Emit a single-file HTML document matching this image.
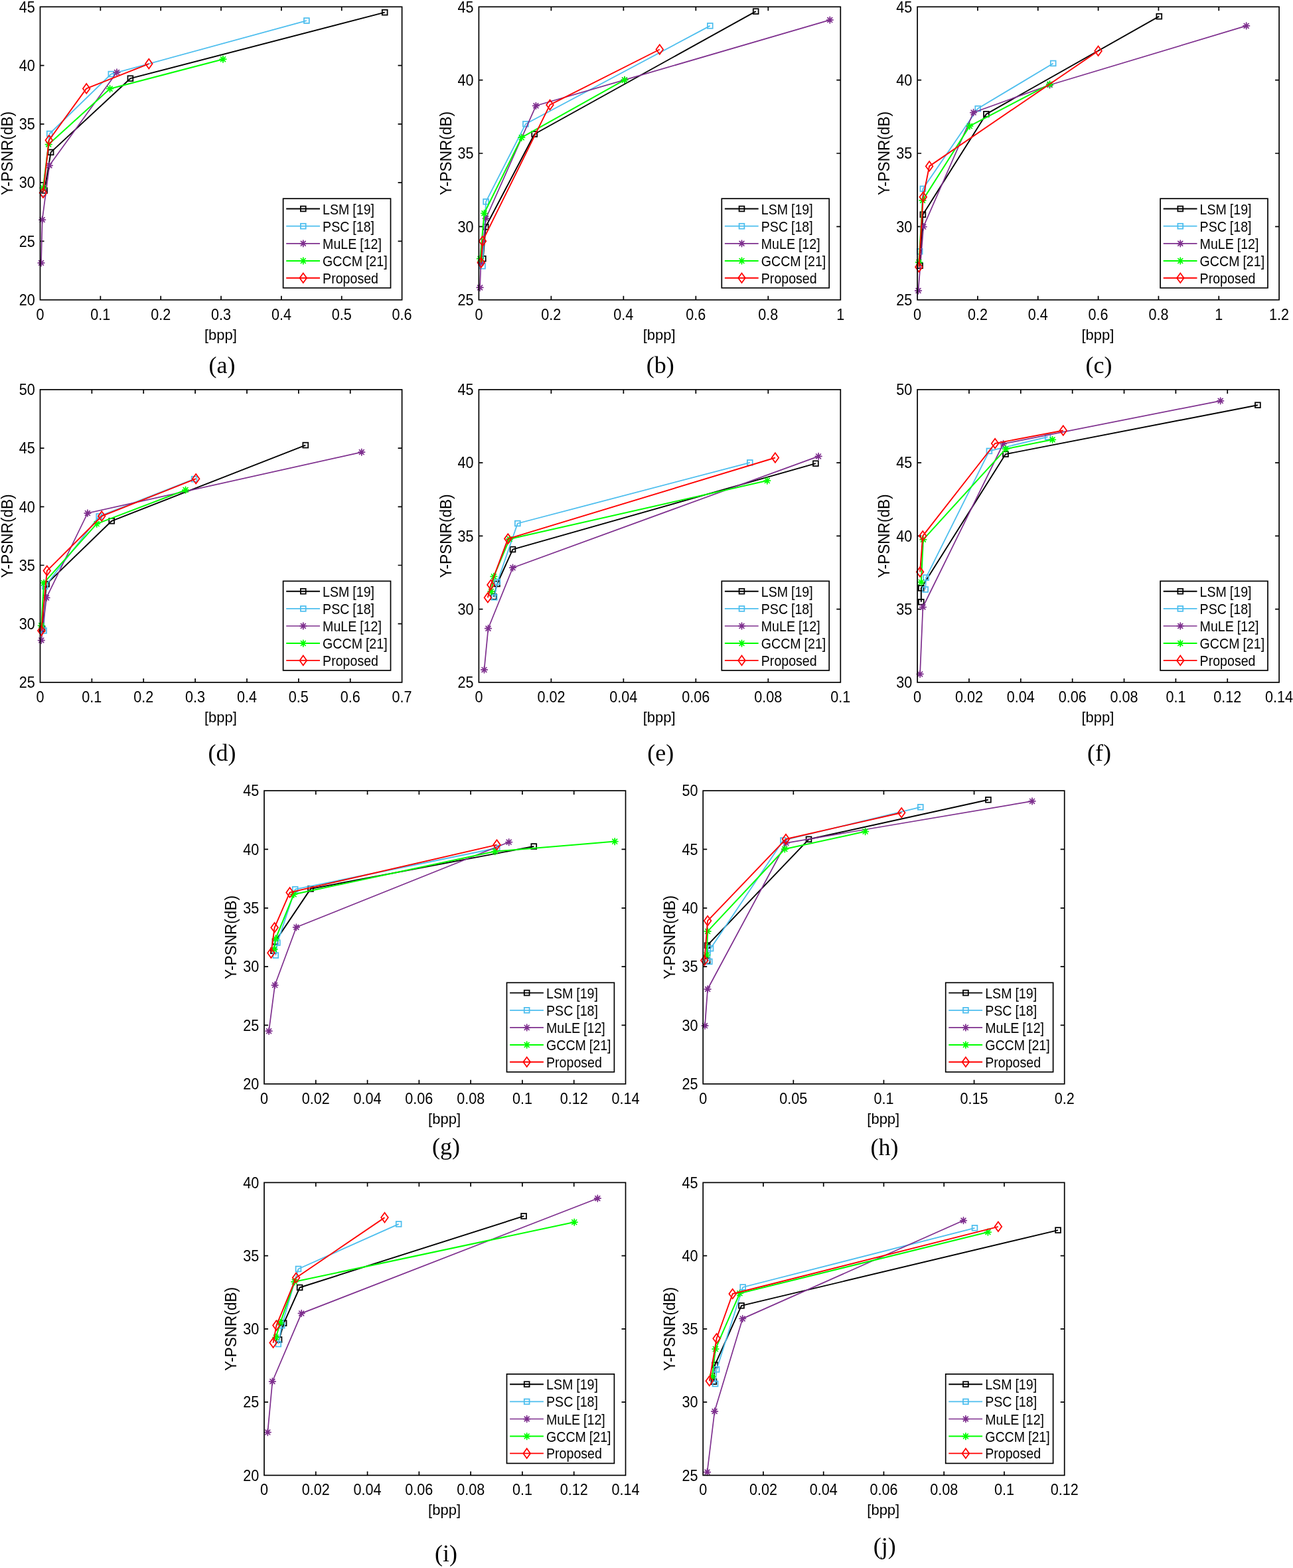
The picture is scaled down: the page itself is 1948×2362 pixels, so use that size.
<!DOCTYPE html><html><head><meta charset="utf-8"><title>Y-PSNR vs bpp</title>
<style>html,body{margin:0;padding:0;background:#fff;}svg{display:block;}</style></head><body>
<svg width="1948" height="2362" viewBox="0 0 1948 2362">
<rect width="1948" height="2362" fill="#fff"/>
<g>
<path d="M151.35 451.7V445.7M151.35 10.3V16.3M242.2 451.7V445.7M242.2 10.3V16.3M333.05 451.7V445.7M333.05 10.3V16.3M423.9 451.7V445.7M423.9 10.3V16.3M514.75 451.7V445.7M514.75 10.3V16.3M60.5 363.42H66.5M605.6 363.42H599.6M60.5 275.14H66.5M605.6 275.14H599.6M60.5 186.86H66.5M605.6 186.86H599.6M60.5 98.58H66.5M605.6 98.58H599.6" stroke="#000" stroke-width="1.7" fill="none"/>
<path d="M67.1 287L76.6 229.4L196.4 118.2L579.7 18.7" fill="none" stroke="#000000" stroke-width="1.9" stroke-linejoin="round"/>
<rect x="63.2" y="283.1" width="7.8" height="7.8" fill="none" stroke="#000000" stroke-width="1.75"/>
<rect x="72.7" y="225.5" width="7.8" height="7.8" fill="none" stroke="#000000" stroke-width="1.75"/>
<rect x="192.5" y="114.3" width="7.8" height="7.8" fill="none" stroke="#000000" stroke-width="1.75"/>
<rect x="575.8" y="14.8" width="7.8" height="7.8" fill="none" stroke="#000000" stroke-width="1.75"/>
<path d="M64.7 291L74.7 201.5L167.3 111.6L461.9 31.1" fill="none" stroke="#4DBEEE" stroke-width="1.8" stroke-linejoin="round"/>
<rect x="60.8" y="287.1" width="7.8" height="7.8" fill="none" stroke="#4DBEEE" stroke-width="1.75"/>
<rect x="70.8" y="197.6" width="7.8" height="7.8" fill="none" stroke="#4DBEEE" stroke-width="1.75"/>
<rect x="163.4" y="107.7" width="7.8" height="7.8" fill="none" stroke="#4DBEEE" stroke-width="1.75"/>
<rect x="458" y="27.2" width="7.8" height="7.8" fill="none" stroke="#4DBEEE" stroke-width="1.75"/>
<path d="M62 396L63.7 331L74.4 249.3L176 109" fill="none" stroke="#7E2F8E" stroke-width="1.7" stroke-linejoin="round"/>
<path d="M62 391.2L62 400.8M57.2 396L66.8 396M58.6 392.6L65.4 399.4M58.6 399.4L65.4 392.6" stroke="#7E2F8E" stroke-width="1.75" stroke-linecap="round"/>
<path d="M63.7 326.2L63.7 335.8M58.9 331L68.5 331M60.3 327.6L67.1 334.4M60.3 334.4L67.1 327.6" stroke="#7E2F8E" stroke-width="1.75" stroke-linecap="round"/>
<path d="M74.4 244.5L74.4 254.1M69.6 249.3L79.2 249.3M71 245.9L77.8 252.7M71 252.7L77.8 245.9" stroke="#7E2F8E" stroke-width="1.75" stroke-linecap="round"/>
<path d="M176 104.2L176 113.8M171.2 109L180.8 109M172.6 105.6L179.4 112.4M172.6 112.4L179.4 105.6" stroke="#7E2F8E" stroke-width="1.75" stroke-linecap="round"/>
<path d="M64.9 283L73.2 217.5L165.6 133.7L336 89.2" fill="none" stroke="#00FF00" stroke-width="2.0" stroke-linejoin="round"/>
<path d="M64.9 278.2L64.9 287.8M60.1 283L69.7 283M61.5 279.6L68.3 286.4M61.5 286.4L68.3 279.6" stroke="#00FF00" stroke-width="1.75" stroke-linecap="round"/>
<path d="M73.2 212.7L73.2 222.3M68.4 217.5L78 217.5M69.8 214.1L76.6 220.9M69.8 220.9L76.6 214.1" stroke="#00FF00" stroke-width="1.75" stroke-linecap="round"/>
<path d="M165.6 128.9L165.6 138.5M160.8 133.7L170.4 133.7M162.2 130.3L169 137.1M162.2 137.1L169 130.3" stroke="#00FF00" stroke-width="1.75" stroke-linecap="round"/>
<path d="M336 84.4L336 94M331.2 89.2L340.8 89.2M332.6 85.8L339.4 92.6M332.6 92.6L339.4 85.8" stroke="#00FF00" stroke-width="1.75" stroke-linecap="round"/>
<path d="M65 290.5L73.8 211.3L130.2 133.4L224.3 96.1" fill="none" stroke="#FF0000" stroke-width="1.9" stroke-linejoin="round"/>
<path d="M65 283.2L70.3 290.5L65 297.8L59.7 290.5Z" fill="none" stroke="#FF0000" stroke-width="1.75" stroke-linejoin="miter"/>
<path d="M73.8 204L79.1 211.3L73.8 218.6L68.5 211.3Z" fill="none" stroke="#FF0000" stroke-width="1.75" stroke-linejoin="miter"/>
<path d="M130.2 126.1L135.5 133.4L130.2 140.7L124.9 133.4Z" fill="none" stroke="#FF0000" stroke-width="1.75" stroke-linejoin="miter"/>
<path d="M224.3 88.8L229.6 96.1L224.3 103.4L219 96.1Z" fill="none" stroke="#FF0000" stroke-width="1.75" stroke-linejoin="miter"/>
<rect x="60.5" y="10.3" width="545.1" height="441.4" fill="none" stroke="#000" stroke-width="1.7"/>
<g font-family="'Liberation Sans', Arial, sans-serif" font-size="21.6" fill="#000">
<text transform="translate(60.5 481.7) scale(1 1.08)" text-anchor="middle">0</text>
<text transform="translate(151.35 481.7) scale(1 1.08)" text-anchor="middle">0.1</text>
<text transform="translate(242.2 481.7) scale(1 1.08)" text-anchor="middle">0.2</text>
<text transform="translate(333.05 481.7) scale(1 1.08)" text-anchor="middle">0.3</text>
<text transform="translate(423.9 481.7) scale(1 1.08)" text-anchor="middle">0.4</text>
<text transform="translate(514.75 481.7) scale(1 1.08)" text-anchor="middle">0.5</text>
<text transform="translate(605.6 481.7) scale(1 1.08)" text-anchor="middle">0.6</text>
<text transform="translate(52.7 459.9) scale(1 1.07)" text-anchor="end">20</text>
<text transform="translate(52.7 371.62) scale(1 1.07)" text-anchor="end">25</text>
<text transform="translate(52.7 283.34) scale(1 1.07)" text-anchor="end">30</text>
<text transform="translate(52.7 195.06) scale(1 1.07)" text-anchor="end">35</text>
<text transform="translate(52.7 106.78) scale(1 1.07)" text-anchor="end">40</text>
<text transform="translate(52.7 18.5) scale(1 1.07)" text-anchor="end">45</text>
</g>
<text x="332.35" y="511.6" text-anchor="middle" font-family="'Liberation Sans', Arial, sans-serif" font-size="22">[bpp]</text>
<text transform="translate(18.6 231) rotate(-90) scale(1 1.03)" text-anchor="middle" font-family="'Liberation Sans', Arial, sans-serif" font-size="22.6">Y-PSNR(dB)</text>
<rect x="426.6" y="299.2" width="161.9" height="134.5" fill="#fff" stroke="#000" stroke-width="1.7"/>
<path d="M431.2 314.5H482" stroke="#000000" stroke-width="1.9"/>
<rect x="452.9" y="310.6" width="7.8" height="7.8" fill="none" stroke="#000000" stroke-width="1.75"/>
<text transform="translate(486.1 322.5) scale(1 1.1)" font-family="'Liberation Sans', Arial, sans-serif" font-size="19.6" word-spacing="-0.5">LSM [19]</text>
<path d="M431.2 340.7H482" stroke="#4DBEEE" stroke-width="1.8"/>
<rect x="452.9" y="336.8" width="7.8" height="7.8" fill="none" stroke="#4DBEEE" stroke-width="1.75"/>
<text transform="translate(486.1 348.7) scale(1 1.1)" font-family="'Liberation Sans', Arial, sans-serif" font-size="19.6" word-spacing="-0.5">PSC [18]</text>
<path d="M431.2 366.8H482" stroke="#7E2F8E" stroke-width="1.7"/>
<path d="M456.8 362L456.8 371.6M452 366.8L461.6 366.8M453.4 363.4L460.2 370.2M453.4 370.2L460.2 363.4" stroke="#7E2F8E" stroke-width="1.75" stroke-linecap="round"/>
<text transform="translate(486.1 374.8) scale(1 1.1)" font-family="'Liberation Sans', Arial, sans-serif" font-size="19.6" word-spacing="-0.5">MuLE [12]</text>
<path d="M431.2 392.9H482" stroke="#00FF00" stroke-width="2.0"/>
<path d="M456.8 388.1L456.8 397.7M452 392.9L461.6 392.9M453.4 389.5L460.2 396.3M453.4 396.3L460.2 389.5" stroke="#00FF00" stroke-width="1.75" stroke-linecap="round"/>
<text transform="translate(486.1 400.9) scale(1 1.1)" font-family="'Liberation Sans', Arial, sans-serif" font-size="19.6" word-spacing="-0.5">GCCM [21]</text>
<path d="M431.2 418.7H482" stroke="#FF0000" stroke-width="1.9"/>
<path d="M456.8 411.4L462.1 418.7L456.8 426L451.5 418.7Z" fill="none" stroke="#FF0000" stroke-width="1.75" stroke-linejoin="miter"/>
<text transform="translate(486.1 426.7) scale(1 1.1)" font-family="'Liberation Sans', Arial, sans-serif" font-size="19.6" word-spacing="-0.5">Proposed</text>
<text x="334.6" y="561.7" text-anchor="middle" font-family="'Liberation Serif', 'Times New Roman', serif" font-size="36">(a)</text>
</g>
<g>
<path d="M830.38 451.7V445.7M830.38 10.3V16.3M939.36 451.7V445.7M939.36 10.3V16.3M1048.34 451.7V445.7M1048.34 10.3V16.3M1157.32 451.7V445.7M1157.32 10.3V16.3M721.4 341.35H727.4M1266.3 341.35H1260.3M721.4 231H727.4M1266.3 231H1260.3M721.4 120.65H727.4M1266.3 120.65H1260.3" stroke="#000" stroke-width="1.7" fill="none"/>
<path d="M727.8 389.7L731.7 341.8L805.2 202L1138.7 17.1" fill="none" stroke="#000000" stroke-width="1.9" stroke-linejoin="round"/>
<rect x="723.9" y="385.8" width="7.8" height="7.8" fill="none" stroke="#000000" stroke-width="1.75"/>
<rect x="727.8" y="337.9" width="7.8" height="7.8" fill="none" stroke="#000000" stroke-width="1.75"/>
<rect x="801.3" y="198.1" width="7.8" height="7.8" fill="none" stroke="#000000" stroke-width="1.75"/>
<rect x="1134.8" y="13.2" width="7.8" height="7.8" fill="none" stroke="#000000" stroke-width="1.75"/>
<path d="M727 400.8L732.1 303.8L791.9 186.8L1069.8 38.9" fill="none" stroke="#4DBEEE" stroke-width="1.8" stroke-linejoin="round"/>
<rect x="723.1" y="396.9" width="7.8" height="7.8" fill="none" stroke="#4DBEEE" stroke-width="1.75"/>
<rect x="728.2" y="299.9" width="7.8" height="7.8" fill="none" stroke="#4DBEEE" stroke-width="1.75"/>
<rect x="788" y="182.9" width="7.8" height="7.8" fill="none" stroke="#4DBEEE" stroke-width="1.75"/>
<rect x="1065.9" y="35" width="7.8" height="7.8" fill="none" stroke="#4DBEEE" stroke-width="1.75"/>
<path d="M723.1 433.2L724.5 396L732.1 329L807.4 159.3L941 120.4L1250.3 30.1" fill="none" stroke="#7E2F8E" stroke-width="1.7" stroke-linejoin="round"/>
<path d="M723.1 428.4L723.1 438M718.3 433.2L727.9 433.2M719.7 429.8L726.5 436.6M719.7 436.6L726.5 429.8" stroke="#7E2F8E" stroke-width="1.75" stroke-linecap="round"/>
<path d="M724.5 391.2L724.5 400.8M719.7 396L729.3 396M721.1 392.6L727.9 399.4M721.1 399.4L727.9 392.6" stroke="#7E2F8E" stroke-width="1.75" stroke-linecap="round"/>
<path d="M732.1 324.2L732.1 333.8M727.3 329L736.9 329M728.7 325.6L735.5 332.4M728.7 332.4L735.5 325.6" stroke="#7E2F8E" stroke-width="1.75" stroke-linecap="round"/>
<path d="M807.4 154.5L807.4 164.1M802.6 159.3L812.2 159.3M804 155.9L810.8 162.7M804 162.7L810.8 155.9" stroke="#7E2F8E" stroke-width="1.75" stroke-linecap="round"/>
<path d="M941 115.6L941 125.2M936.2 120.4L945.8 120.4M937.6 117L944.4 123.8M937.6 123.8L944.4 117" stroke="#7E2F8E" stroke-width="1.75" stroke-linecap="round"/>
<path d="M1250.3 25.3L1250.3 34.9M1245.5 30.1L1255.1 30.1M1246.9 26.7L1253.7 33.5M1246.9 33.5L1253.7 26.7" stroke="#7E2F8E" stroke-width="1.75" stroke-linecap="round"/>
<path d="M723.5 389.7L729.5 321.3L785.8 207.2L941 120.4" fill="none" stroke="#00FF00" stroke-width="2.0" stroke-linejoin="round"/>
<path d="M723.5 384.9L723.5 394.5M718.7 389.7L728.3 389.7M720.1 386.3L726.9 393.1M720.1 393.1L726.9 386.3" stroke="#00FF00" stroke-width="1.75" stroke-linecap="round"/>
<path d="M729.5 316.5L729.5 326.1M724.7 321.3L734.3 321.3M726.1 317.9L732.9 324.7M726.1 324.7L732.9 317.9" stroke="#00FF00" stroke-width="1.75" stroke-linecap="round"/>
<path d="M785.8 202.4L785.8 212M781 207.2L790.6 207.2M782.4 203.8L789.2 210.6M782.4 210.6L789.2 203.8" stroke="#00FF00" stroke-width="1.75" stroke-linecap="round"/>
<path d="M941 115.6L941 125.2M936.2 120.4L945.8 120.4M937.6 117L944.4 123.8M937.6 123.8L944.4 117" stroke="#00FF00" stroke-width="1.75" stroke-linecap="round"/>
<path d="M724.8 395.6L727 363.2L828.5 157.9L993.8 74.5" fill="none" stroke="#FF0000" stroke-width="1.9" stroke-linejoin="round"/>
<path d="M724.8 388.3L730.1 395.6L724.8 402.9L719.5 395.6Z" fill="none" stroke="#FF0000" stroke-width="1.75" stroke-linejoin="miter"/>
<path d="M727 355.9L732.3 363.2L727 370.5L721.7 363.2Z" fill="none" stroke="#FF0000" stroke-width="1.75" stroke-linejoin="miter"/>
<path d="M828.5 150.6L833.8 157.9L828.5 165.2L823.2 157.9Z" fill="none" stroke="#FF0000" stroke-width="1.75" stroke-linejoin="miter"/>
<path d="M993.8 67.2L999.1 74.5L993.8 81.8L988.5 74.5Z" fill="none" stroke="#FF0000" stroke-width="1.75" stroke-linejoin="miter"/>
<rect x="721.4" y="10.3" width="544.9" height="441.4" fill="none" stroke="#000" stroke-width="1.7"/>
<g font-family="'Liberation Sans', Arial, sans-serif" font-size="21.6" fill="#000">
<text transform="translate(721.4 481.7) scale(1 1.08)" text-anchor="middle">0</text>
<text transform="translate(830.38 481.7) scale(1 1.08)" text-anchor="middle">0.2</text>
<text transform="translate(939.36 481.7) scale(1 1.08)" text-anchor="middle">0.4</text>
<text transform="translate(1048.34 481.7) scale(1 1.08)" text-anchor="middle">0.6</text>
<text transform="translate(1157.32 481.7) scale(1 1.08)" text-anchor="middle">0.8</text>
<text transform="translate(1266.3 481.7) scale(1 1.08)" text-anchor="middle">1</text>
<text transform="translate(713.6 459.9) scale(1 1.07)" text-anchor="end">25</text>
<text transform="translate(713.6 349.55) scale(1 1.07)" text-anchor="end">30</text>
<text transform="translate(713.6 239.2) scale(1 1.07)" text-anchor="end">35</text>
<text transform="translate(713.6 128.85) scale(1 1.07)" text-anchor="end">40</text>
<text transform="translate(713.6 18.5) scale(1 1.07)" text-anchor="end">45</text>
</g>
<text x="993.15" y="511.6" text-anchor="middle" font-family="'Liberation Sans', Arial, sans-serif" font-size="22">[bpp]</text>
<text transform="translate(679.5 231) rotate(-90) scale(1 1.03)" text-anchor="middle" font-family="'Liberation Sans', Arial, sans-serif" font-size="22.6">Y-PSNR(dB)</text>
<rect x="1087.3" y="299.2" width="161.9" height="134.5" fill="#fff" stroke="#000" stroke-width="1.7"/>
<path d="M1091.9 314.5H1142.7" stroke="#000000" stroke-width="1.9"/>
<rect x="1113.6" y="310.6" width="7.8" height="7.8" fill="none" stroke="#000000" stroke-width="1.75"/>
<text transform="translate(1146.8 322.5) scale(1 1.1)" font-family="'Liberation Sans', Arial, sans-serif" font-size="19.6" word-spacing="-0.5">LSM [19]</text>
<path d="M1091.9 340.7H1142.7" stroke="#4DBEEE" stroke-width="1.8"/>
<rect x="1113.6" y="336.8" width="7.8" height="7.8" fill="none" stroke="#4DBEEE" stroke-width="1.75"/>
<text transform="translate(1146.8 348.7) scale(1 1.1)" font-family="'Liberation Sans', Arial, sans-serif" font-size="19.6" word-spacing="-0.5">PSC [18]</text>
<path d="M1091.9 366.8H1142.7" stroke="#7E2F8E" stroke-width="1.7"/>
<path d="M1117.5 362L1117.5 371.6M1112.7 366.8L1122.3 366.8M1114.1 363.4L1120.9 370.2M1114.1 370.2L1120.9 363.4" stroke="#7E2F8E" stroke-width="1.75" stroke-linecap="round"/>
<text transform="translate(1146.8 374.8) scale(1 1.1)" font-family="'Liberation Sans', Arial, sans-serif" font-size="19.6" word-spacing="-0.5">MuLE [12]</text>
<path d="M1091.9 392.9H1142.7" stroke="#00FF00" stroke-width="2.0"/>
<path d="M1117.5 388.1L1117.5 397.7M1112.7 392.9L1122.3 392.9M1114.1 389.5L1120.9 396.3M1114.1 396.3L1120.9 389.5" stroke="#00FF00" stroke-width="1.75" stroke-linecap="round"/>
<text transform="translate(1146.8 400.9) scale(1 1.1)" font-family="'Liberation Sans', Arial, sans-serif" font-size="19.6" word-spacing="-0.5">GCCM [21]</text>
<path d="M1091.9 418.7H1142.7" stroke="#FF0000" stroke-width="1.9"/>
<path d="M1117.5 411.4L1122.8 418.7L1117.5 426L1112.2 418.7Z" fill="none" stroke="#FF0000" stroke-width="1.75" stroke-linejoin="miter"/>
<text transform="translate(1146.8 426.7) scale(1 1.1)" font-family="'Liberation Sans', Arial, sans-serif" font-size="19.6" word-spacing="-0.5">Proposed</text>
<text x="994.8" y="561.7" text-anchor="middle" font-family="'Liberation Serif', 'Times New Roman', serif" font-size="36">(b)</text>
</g>
<g>
<path d="M1472.93 451.7V445.7M1472.93 10.3V16.3M1563.77 451.7V445.7M1563.77 10.3V16.3M1654.6 451.7V445.7M1654.6 10.3V16.3M1745.43 451.7V445.7M1745.43 10.3V16.3M1836.27 451.7V445.7M1836.27 10.3V16.3M1382.1 341.35H1388.1M1927.1 341.35H1921.1M1382.1 231H1388.1M1927.1 231H1921.1M1382.1 120.65H1388.1M1927.1 120.65H1921.1" stroke="#000" stroke-width="1.7" fill="none"/>
<path d="M1386.1 400.2L1390.4 323.2L1485.9 171.8L1746.3 24.7" fill="none" stroke="#000000" stroke-width="1.9" stroke-linejoin="round"/>
<rect x="1382.2" y="396.3" width="7.8" height="7.8" fill="none" stroke="#000000" stroke-width="1.75"/>
<rect x="1386.5" y="319.3" width="7.8" height="7.8" fill="none" stroke="#000000" stroke-width="1.75"/>
<rect x="1482" y="167.9" width="7.8" height="7.8" fill="none" stroke="#000000" stroke-width="1.75"/>
<rect x="1742.4" y="20.8" width="7.8" height="7.8" fill="none" stroke="#000000" stroke-width="1.75"/>
<path d="M1385.7 378.8L1390.4 284.4L1473.2 163.6L1586.7 95.4" fill="none" stroke="#4DBEEE" stroke-width="1.8" stroke-linejoin="round"/>
<rect x="1381.8" y="374.9" width="7.8" height="7.8" fill="none" stroke="#4DBEEE" stroke-width="1.75"/>
<rect x="1386.5" y="280.5" width="7.8" height="7.8" fill="none" stroke="#4DBEEE" stroke-width="1.75"/>
<rect x="1469.3" y="159.7" width="7.8" height="7.8" fill="none" stroke="#4DBEEE" stroke-width="1.75"/>
<rect x="1582.8" y="91.5" width="7.8" height="7.8" fill="none" stroke="#4DBEEE" stroke-width="1.75"/>
<path d="M1383.5 437.8L1391.2 341.6L1466.6 169.5L1581.5 128L1877.7 38.9" fill="none" stroke="#7E2F8E" stroke-width="1.7" stroke-linejoin="round"/>
<path d="M1383.5 433L1383.5 442.6M1378.7 437.8L1388.3 437.8M1380.1 434.4L1386.9 441.2M1380.1 441.2L1386.9 434.4" stroke="#7E2F8E" stroke-width="1.75" stroke-linecap="round"/>
<path d="M1391.2 336.8L1391.2 346.4M1386.4 341.6L1396 341.6M1387.8 338.2L1394.6 345M1387.8 345L1394.6 338.2" stroke="#7E2F8E" stroke-width="1.75" stroke-linecap="round"/>
<path d="M1466.6 164.7L1466.6 174.3M1461.8 169.5L1471.4 169.5M1463.2 166.1L1470 172.9M1463.2 172.9L1470 166.1" stroke="#7E2F8E" stroke-width="1.75" stroke-linecap="round"/>
<path d="M1581.5 123.2L1581.5 132.8M1576.7 128L1586.3 128M1578.1 124.6L1584.9 131.4M1578.1 131.4L1584.9 124.6" stroke="#7E2F8E" stroke-width="1.75" stroke-linecap="round"/>
<path d="M1877.7 34.1L1877.7 43.7M1872.9 38.9L1882.5 38.9M1874.3 35.5L1881.1 42.3M1874.3 42.3L1881.1 35.5" stroke="#7E2F8E" stroke-width="1.75" stroke-linecap="round"/>
<path d="M1384.4 395L1390 301.9L1460.9 189.9L1581.5 126.8" fill="none" stroke="#00FF00" stroke-width="2.0" stroke-linejoin="round"/>
<path d="M1384.4 390.2L1384.4 399.8M1379.6 395L1389.2 395M1381 391.6L1387.8 398.4M1381 398.4L1387.8 391.6" stroke="#00FF00" stroke-width="1.75" stroke-linecap="round"/>
<path d="M1390 297.1L1390 306.7M1385.2 301.9L1394.8 301.9M1386.6 298.5L1393.4 305.3M1386.6 305.3L1393.4 298.5" stroke="#00FF00" stroke-width="1.75" stroke-linecap="round"/>
<path d="M1460.9 185.1L1460.9 194.7M1456.1 189.9L1465.7 189.9M1457.5 186.5L1464.3 193.3M1457.5 193.3L1464.3 186.5" stroke="#00FF00" stroke-width="1.75" stroke-linecap="round"/>
<path d="M1581.5 122L1581.5 131.6M1576.7 126.8L1586.3 126.8M1578.1 123.4L1584.9 130.2M1578.1 130.2L1584.9 123.4" stroke="#00FF00" stroke-width="1.75" stroke-linecap="round"/>
<path d="M1384.4 402.3L1390.8 296.8L1400.1 250.4L1654.6 76.7" fill="none" stroke="#FF0000" stroke-width="1.9" stroke-linejoin="round"/>
<path d="M1384.4 395L1389.7 402.3L1384.4 409.6L1379.1 402.3Z" fill="none" stroke="#FF0000" stroke-width="1.75" stroke-linejoin="miter"/>
<path d="M1390.8 289.5L1396.1 296.8L1390.8 304.1L1385.5 296.8Z" fill="none" stroke="#FF0000" stroke-width="1.75" stroke-linejoin="miter"/>
<path d="M1400.1 243.1L1405.4 250.4L1400.1 257.7L1394.8 250.4Z" fill="none" stroke="#FF0000" stroke-width="1.75" stroke-linejoin="miter"/>
<path d="M1654.6 69.4L1659.9 76.7L1654.6 84L1649.3 76.7Z" fill="none" stroke="#FF0000" stroke-width="1.75" stroke-linejoin="miter"/>
<rect x="1382.1" y="10.3" width="545" height="441.4" fill="none" stroke="#000" stroke-width="1.7"/>
<g font-family="'Liberation Sans', Arial, sans-serif" font-size="21.6" fill="#000">
<text transform="translate(1382.1 481.7) scale(1 1.08)" text-anchor="middle">0</text>
<text transform="translate(1472.93 481.7) scale(1 1.08)" text-anchor="middle">0.2</text>
<text transform="translate(1563.77 481.7) scale(1 1.08)" text-anchor="middle">0.4</text>
<text transform="translate(1654.6 481.7) scale(1 1.08)" text-anchor="middle">0.6</text>
<text transform="translate(1745.43 481.7) scale(1 1.08)" text-anchor="middle">0.8</text>
<text transform="translate(1836.27 481.7) scale(1 1.08)" text-anchor="middle">1</text>
<text transform="translate(1927.1 481.7) scale(1 1.08)" text-anchor="middle">1.2</text>
<text transform="translate(1374.3 459.9) scale(1 1.07)" text-anchor="end">25</text>
<text transform="translate(1374.3 349.55) scale(1 1.07)" text-anchor="end">30</text>
<text transform="translate(1374.3 239.2) scale(1 1.07)" text-anchor="end">35</text>
<text transform="translate(1374.3 128.85) scale(1 1.07)" text-anchor="end">40</text>
<text transform="translate(1374.3 18.5) scale(1 1.07)" text-anchor="end">45</text>
</g>
<text x="1653.9" y="511.6" text-anchor="middle" font-family="'Liberation Sans', Arial, sans-serif" font-size="22">[bpp]</text>
<text transform="translate(1340.2 231) rotate(-90) scale(1 1.03)" text-anchor="middle" font-family="'Liberation Sans', Arial, sans-serif" font-size="22.6">Y-PSNR(dB)</text>
<rect x="1748.1" y="299.2" width="161.9" height="134.5" fill="#fff" stroke="#000" stroke-width="1.7"/>
<path d="M1752.7 314.5H1803.5" stroke="#000000" stroke-width="1.9"/>
<rect x="1774.4" y="310.6" width="7.8" height="7.8" fill="none" stroke="#000000" stroke-width="1.75"/>
<text transform="translate(1807.6 322.5) scale(1 1.1)" font-family="'Liberation Sans', Arial, sans-serif" font-size="19.6" word-spacing="-0.5">LSM [19]</text>
<path d="M1752.7 340.7H1803.5" stroke="#4DBEEE" stroke-width="1.8"/>
<rect x="1774.4" y="336.8" width="7.8" height="7.8" fill="none" stroke="#4DBEEE" stroke-width="1.75"/>
<text transform="translate(1807.6 348.7) scale(1 1.1)" font-family="'Liberation Sans', Arial, sans-serif" font-size="19.6" word-spacing="-0.5">PSC [18]</text>
<path d="M1752.7 366.8H1803.5" stroke="#7E2F8E" stroke-width="1.7"/>
<path d="M1778.3 362L1778.3 371.6M1773.5 366.8L1783.1 366.8M1774.9 363.4L1781.7 370.2M1774.9 370.2L1781.7 363.4" stroke="#7E2F8E" stroke-width="1.75" stroke-linecap="round"/>
<text transform="translate(1807.6 374.8) scale(1 1.1)" font-family="'Liberation Sans', Arial, sans-serif" font-size="19.6" word-spacing="-0.5">MuLE [12]</text>
<path d="M1752.7 392.9H1803.5" stroke="#00FF00" stroke-width="2.0"/>
<path d="M1778.3 388.1L1778.3 397.7M1773.5 392.9L1783.1 392.9M1774.9 389.5L1781.7 396.3M1774.9 396.3L1781.7 389.5" stroke="#00FF00" stroke-width="1.75" stroke-linecap="round"/>
<text transform="translate(1807.6 400.9) scale(1 1.1)" font-family="'Liberation Sans', Arial, sans-serif" font-size="19.6" word-spacing="-0.5">GCCM [21]</text>
<path d="M1752.7 418.7H1803.5" stroke="#FF0000" stroke-width="1.9"/>
<path d="M1778.3 411.4L1783.6 418.7L1778.3 426L1773 418.7Z" fill="none" stroke="#FF0000" stroke-width="1.75" stroke-linejoin="miter"/>
<text transform="translate(1807.6 426.7) scale(1 1.1)" font-family="'Liberation Sans', Arial, sans-serif" font-size="19.6" word-spacing="-0.5">Proposed</text>
<text x="1655.6" y="561.7" text-anchor="middle" font-family="'Liberation Serif', 'Times New Roman', serif" font-size="36">(c)</text>
</g>
<g>
<path d="M138.37 1027.9V1021.9M138.37 586.9V592.9M216.24 1027.9V1021.9M216.24 586.9V592.9M294.11 1027.9V1021.9M294.11 586.9V592.9M371.99 1027.9V1021.9M371.99 586.9V592.9M449.86 1027.9V1021.9M449.86 586.9V592.9M527.73 1027.9V1021.9M527.73 586.9V592.9M60.5 939.7H66.5M605.6 939.7H599.6M60.5 851.5H66.5M605.6 851.5H599.6M60.5 763.3H66.5M605.6 763.3H599.6M60.5 675.1H66.5M605.6 675.1H599.6" stroke="#000" stroke-width="1.7" fill="none"/>
<path d="M63.5 947L70 879.9L168.2 784.8L460.3 670.6" fill="none" stroke="#000000" stroke-width="1.9" stroke-linejoin="round"/>
<rect x="59.6" y="943.1" width="7.8" height="7.8" fill="none" stroke="#000000" stroke-width="1.75"/>
<rect x="66.1" y="876" width="7.8" height="7.8" fill="none" stroke="#000000" stroke-width="1.75"/>
<rect x="164.3" y="780.9" width="7.8" height="7.8" fill="none" stroke="#000000" stroke-width="1.75"/>
<rect x="456.4" y="666.7" width="7.8" height="7.8" fill="none" stroke="#000000" stroke-width="1.75"/>
<path d="M66.1 950L67.8 883.3L149.2 777.9L292.6 721.7" fill="none" stroke="#4DBEEE" stroke-width="1.8" stroke-linejoin="round"/>
<rect x="62.2" y="946.1" width="7.8" height="7.8" fill="none" stroke="#4DBEEE" stroke-width="1.75"/>
<rect x="63.9" y="879.4" width="7.8" height="7.8" fill="none" stroke="#4DBEEE" stroke-width="1.75"/>
<rect x="145.3" y="774" width="7.8" height="7.8" fill="none" stroke="#4DBEEE" stroke-width="1.75"/>
<rect x="288.7" y="717.8" width="7.8" height="7.8" fill="none" stroke="#4DBEEE" stroke-width="1.75"/>
<path d="M62.3 964.5L70 900.4L131.9 773L544.8 681.1" fill="none" stroke="#7E2F8E" stroke-width="1.7" stroke-linejoin="round"/>
<path d="M62.3 959.7L62.3 969.3M57.5 964.5L67.1 964.5M58.9 961.1L65.7 967.9M58.9 967.9L65.7 961.1" stroke="#7E2F8E" stroke-width="1.75" stroke-linecap="round"/>
<path d="M70 895.6L70 905.2M65.2 900.4L74.8 900.4M66.6 897L73.4 903.8M66.6 903.8L73.4 897" stroke="#7E2F8E" stroke-width="1.75" stroke-linecap="round"/>
<path d="M131.9 768.2L131.9 777.8M127.1 773L136.7 773M128.5 769.6L135.3 776.4M128.5 776.4L135.3 769.6" stroke="#7E2F8E" stroke-width="1.75" stroke-linecap="round"/>
<path d="M544.8 676.3L544.8 685.9M540 681.1L549.6 681.1M541.4 677.7L548.2 684.5M541.4 684.5L548.2 677.7" stroke="#7E2F8E" stroke-width="1.75" stroke-linecap="round"/>
<path d="M62.3 942.3L66.1 878.2L145.7 789.1L279.6 738.1" fill="none" stroke="#00FF00" stroke-width="2.0" stroke-linejoin="round"/>
<path d="M62.3 937.5L62.3 947.1M57.5 942.3L67.1 942.3M58.9 938.9L65.7 945.7M58.9 945.7L65.7 938.9" stroke="#00FF00" stroke-width="1.75" stroke-linecap="round"/>
<path d="M66.1 873.4L66.1 883M61.3 878.2L70.9 878.2M62.7 874.8L69.5 881.6M62.7 881.6L69.5 874.8" stroke="#00FF00" stroke-width="1.75" stroke-linecap="round"/>
<path d="M145.7 784.3L145.7 793.9M140.9 789.1L150.5 789.1M142.3 785.7L149.1 792.5M142.3 792.5L149.1 785.7" stroke="#00FF00" stroke-width="1.75" stroke-linecap="round"/>
<path d="M279.6 733.3L279.6 742.9M274.8 738.1L284.4 738.1M276.2 734.7L283 741.5M276.2 741.5L283 734.7" stroke="#00FF00" stroke-width="1.75" stroke-linecap="round"/>
<path d="M62.3 950L70.8 859.8L153.2 777.5L295.2 721.2" fill="none" stroke="#FF0000" stroke-width="1.9" stroke-linejoin="round"/>
<path d="M62.3 942.7L67.6 950L62.3 957.3L57 950Z" fill="none" stroke="#FF0000" stroke-width="1.75" stroke-linejoin="miter"/>
<path d="M70.8 852.5L76.1 859.8L70.8 867.1L65.5 859.8Z" fill="none" stroke="#FF0000" stroke-width="1.75" stroke-linejoin="miter"/>
<path d="M153.2 770.2L158.5 777.5L153.2 784.8L147.9 777.5Z" fill="none" stroke="#FF0000" stroke-width="1.75" stroke-linejoin="miter"/>
<path d="M295.2 713.9L300.5 721.2L295.2 728.5L289.9 721.2Z" fill="none" stroke="#FF0000" stroke-width="1.75" stroke-linejoin="miter"/>
<rect x="60.5" y="586.9" width="545.1" height="441" fill="none" stroke="#000" stroke-width="1.7"/>
<g font-family="'Liberation Sans', Arial, sans-serif" font-size="21.6" fill="#000">
<text transform="translate(60.5 1057.9) scale(1 1.08)" text-anchor="middle">0</text>
<text transform="translate(138.37 1057.9) scale(1 1.08)" text-anchor="middle">0.1</text>
<text transform="translate(216.24 1057.9) scale(1 1.08)" text-anchor="middle">0.2</text>
<text transform="translate(294.11 1057.9) scale(1 1.08)" text-anchor="middle">0.3</text>
<text transform="translate(371.99 1057.9) scale(1 1.08)" text-anchor="middle">0.4</text>
<text transform="translate(449.86 1057.9) scale(1 1.08)" text-anchor="middle">0.5</text>
<text transform="translate(527.73 1057.9) scale(1 1.08)" text-anchor="middle">0.6</text>
<text transform="translate(605.6 1057.9) scale(1 1.08)" text-anchor="middle">0.7</text>
<text transform="translate(52.7 1036.1) scale(1 1.07)" text-anchor="end">25</text>
<text transform="translate(52.7 947.9) scale(1 1.07)" text-anchor="end">30</text>
<text transform="translate(52.7 859.7) scale(1 1.07)" text-anchor="end">35</text>
<text transform="translate(52.7 771.5) scale(1 1.07)" text-anchor="end">40</text>
<text transform="translate(52.7 683.3) scale(1 1.07)" text-anchor="end">45</text>
<text transform="translate(52.7 595.1) scale(1 1.07)" text-anchor="end">50</text>
</g>
<text x="332.35" y="1087.8" text-anchor="middle" font-family="'Liberation Sans', Arial, sans-serif" font-size="22">[bpp]</text>
<text transform="translate(18.6 807.4) rotate(-90) scale(1 1.03)" text-anchor="middle" font-family="'Liberation Sans', Arial, sans-serif" font-size="22.6">Y-PSNR(dB)</text>
<rect x="426.6" y="875.4" width="161.9" height="134.5" fill="#fff" stroke="#000" stroke-width="1.7"/>
<path d="M431.2 890.7H482" stroke="#000000" stroke-width="1.9"/>
<rect x="452.9" y="886.8" width="7.8" height="7.8" fill="none" stroke="#000000" stroke-width="1.75"/>
<text transform="translate(486.1 898.7) scale(1 1.1)" font-family="'Liberation Sans', Arial, sans-serif" font-size="19.6" word-spacing="-0.5">LSM [19]</text>
<path d="M431.2 916.9H482" stroke="#4DBEEE" stroke-width="1.8"/>
<rect x="452.9" y="913" width="7.8" height="7.8" fill="none" stroke="#4DBEEE" stroke-width="1.75"/>
<text transform="translate(486.1 924.9) scale(1 1.1)" font-family="'Liberation Sans', Arial, sans-serif" font-size="19.6" word-spacing="-0.5">PSC [18]</text>
<path d="M431.2 943H482" stroke="#7E2F8E" stroke-width="1.7"/>
<path d="M456.8 938.2L456.8 947.8M452 943L461.6 943M453.4 939.6L460.2 946.4M453.4 946.4L460.2 939.6" stroke="#7E2F8E" stroke-width="1.75" stroke-linecap="round"/>
<text transform="translate(486.1 951) scale(1 1.1)" font-family="'Liberation Sans', Arial, sans-serif" font-size="19.6" word-spacing="-0.5">MuLE [12]</text>
<path d="M431.2 969.1H482" stroke="#00FF00" stroke-width="2.0"/>
<path d="M456.8 964.3L456.8 973.9M452 969.1L461.6 969.1M453.4 965.7L460.2 972.5M453.4 972.5L460.2 965.7" stroke="#00FF00" stroke-width="1.75" stroke-linecap="round"/>
<text transform="translate(486.1 977.1) scale(1 1.1)" font-family="'Liberation Sans', Arial, sans-serif" font-size="19.6" word-spacing="-0.5">GCCM [21]</text>
<path d="M431.2 994.9H482" stroke="#FF0000" stroke-width="1.9"/>
<path d="M456.8 987.6L462.1 994.9L456.8 1002.2L451.5 994.9Z" fill="none" stroke="#FF0000" stroke-width="1.75" stroke-linejoin="miter"/>
<text transform="translate(486.1 1002.9) scale(1 1.1)" font-family="'Liberation Sans', Arial, sans-serif" font-size="19.6" word-spacing="-0.5">Proposed</text>
<text x="334.4" y="1145.5" text-anchor="middle" font-family="'Liberation Serif', 'Times New Roman', serif" font-size="36">(d)</text>
</g>
<g>
<path d="M830.38 1027.9V1021.9M830.38 586.9V592.9M939.36 1027.9V1021.9M939.36 586.9V592.9M1048.34 1027.9V1021.9M1048.34 586.9V592.9M1157.32 1027.9V1021.9M1157.32 586.9V592.9M721.4 917.65H727.4M1266.3 917.65H1260.3M721.4 807.4H727.4M1266.3 807.4H1260.3M721.4 697.15H727.4M1266.3 697.15H1260.3" stroke="#000" stroke-width="1.7" fill="none"/>
<path d="M743.9 898.9L749 879.5L772.5 827.6L1228.9 698.2" fill="none" stroke="#000000" stroke-width="1.9" stroke-linejoin="round"/>
<rect x="740" y="895" width="7.8" height="7.8" fill="none" stroke="#000000" stroke-width="1.75"/>
<rect x="745.1" y="875.6" width="7.8" height="7.8" fill="none" stroke="#000000" stroke-width="1.75"/>
<rect x="768.6" y="823.7" width="7.8" height="7.8" fill="none" stroke="#000000" stroke-width="1.75"/>
<rect x="1225" y="694.3" width="7.8" height="7.8" fill="none" stroke="#000000" stroke-width="1.75"/>
<path d="M744.8 899.8L749.4 876.5L779.8 788.5L1129.8 696.9" fill="none" stroke="#4DBEEE" stroke-width="1.8" stroke-linejoin="round"/>
<rect x="740.9" y="895.9" width="7.8" height="7.8" fill="none" stroke="#4DBEEE" stroke-width="1.75"/>
<rect x="745.5" y="872.6" width="7.8" height="7.8" fill="none" stroke="#4DBEEE" stroke-width="1.75"/>
<rect x="775.9" y="784.6" width="7.8" height="7.8" fill="none" stroke="#4DBEEE" stroke-width="1.75"/>
<rect x="1125.9" y="693" width="7.8" height="7.8" fill="none" stroke="#4DBEEE" stroke-width="1.75"/>
<path d="M729.5 1008.9L735.5 946.7L772.5 855.2L1233.1 687.4" fill="none" stroke="#7E2F8E" stroke-width="1.7" stroke-linejoin="round"/>
<path d="M729.5 1004.1L729.5 1013.7M724.7 1008.9L734.3 1008.9M726.1 1005.5L732.9 1012.3M726.1 1012.3L732.9 1005.5" stroke="#7E2F8E" stroke-width="1.75" stroke-linecap="round"/>
<path d="M735.5 941.9L735.5 951.5M730.7 946.7L740.3 946.7M732.1 943.3L738.9 950.1M732.1 950.1L738.9 943.3" stroke="#7E2F8E" stroke-width="1.75" stroke-linecap="round"/>
<path d="M772.5 850.4L772.5 860M767.7 855.2L777.3 855.2M769.1 851.8L775.9 858.6M769.1 858.6L775.9 851.8" stroke="#7E2F8E" stroke-width="1.75" stroke-linecap="round"/>
<path d="M1233.1 682.6L1233.1 692.2M1228.3 687.4L1237.9 687.4M1229.7 684L1236.5 690.8M1229.7 690.8L1236.5 684" stroke="#7E2F8E" stroke-width="1.75" stroke-linecap="round"/>
<path d="M740 890.9L743.9 868.4L767.6 812L1155.8 724.1" fill="none" stroke="#00FF00" stroke-width="2.0" stroke-linejoin="round"/>
<path d="M740 886.1L740 895.7M735.2 890.9L744.8 890.9M736.6 887.5L743.4 894.3M736.6 894.3L743.4 887.5" stroke="#00FF00" stroke-width="1.75" stroke-linecap="round"/>
<path d="M743.9 863.6L743.9 873.2M739.1 868.4L748.7 868.4M740.5 865L747.3 871.8M740.5 871.8L747.3 865" stroke="#00FF00" stroke-width="1.75" stroke-linecap="round"/>
<path d="M767.6 807.2L767.6 816.8M762.8 812L772.4 812M764.2 808.6L771 815.4M764.2 815.4L771 808.6" stroke="#00FF00" stroke-width="1.75" stroke-linecap="round"/>
<path d="M1155.8 719.3L1155.8 728.9M1151 724.1L1160.6 724.1M1152.4 720.7L1159.2 727.5M1152.4 727.5L1159.2 720.7" stroke="#00FF00" stroke-width="1.75" stroke-linecap="round"/>
<path d="M734.9 900.2L739.4 881L765.3 811.6L1167.9 689.5" fill="none" stroke="#FF0000" stroke-width="1.9" stroke-linejoin="round"/>
<path d="M734.9 892.9L740.2 900.2L734.9 907.5L729.6 900.2Z" fill="none" stroke="#FF0000" stroke-width="1.75" stroke-linejoin="miter"/>
<path d="M739.4 873.7L744.7 881L739.4 888.3L734.1 881Z" fill="none" stroke="#FF0000" stroke-width="1.75" stroke-linejoin="miter"/>
<path d="M765.3 804.3L770.6 811.6L765.3 818.9L760 811.6Z" fill="none" stroke="#FF0000" stroke-width="1.75" stroke-linejoin="miter"/>
<path d="M1167.9 682.2L1173.2 689.5L1167.9 696.8L1162.6 689.5Z" fill="none" stroke="#FF0000" stroke-width="1.75" stroke-linejoin="miter"/>
<rect x="721.4" y="586.9" width="544.9" height="441" fill="none" stroke="#000" stroke-width="1.7"/>
<g font-family="'Liberation Sans', Arial, sans-serif" font-size="21.6" fill="#000">
<text transform="translate(721.4 1057.9) scale(1 1.08)" text-anchor="middle">0</text>
<text transform="translate(830.38 1057.9) scale(1 1.08)" text-anchor="middle">0.02</text>
<text transform="translate(939.36 1057.9) scale(1 1.08)" text-anchor="middle">0.04</text>
<text transform="translate(1048.34 1057.9) scale(1 1.08)" text-anchor="middle">0.06</text>
<text transform="translate(1157.32 1057.9) scale(1 1.08)" text-anchor="middle">0.08</text>
<text transform="translate(1266.3 1057.9) scale(1 1.08)" text-anchor="middle">0.1</text>
<text transform="translate(713.6 1036.1) scale(1 1.07)" text-anchor="end">25</text>
<text transform="translate(713.6 925.85) scale(1 1.07)" text-anchor="end">30</text>
<text transform="translate(713.6 815.6) scale(1 1.07)" text-anchor="end">35</text>
<text transform="translate(713.6 705.35) scale(1 1.07)" text-anchor="end">40</text>
<text transform="translate(713.6 595.1) scale(1 1.07)" text-anchor="end">45</text>
</g>
<text x="993.15" y="1087.8" text-anchor="middle" font-family="'Liberation Sans', Arial, sans-serif" font-size="22">[bpp]</text>
<text transform="translate(679.5 807.4) rotate(-90) scale(1 1.03)" text-anchor="middle" font-family="'Liberation Sans', Arial, sans-serif" font-size="22.6">Y-PSNR(dB)</text>
<rect x="1087.3" y="875.4" width="161.9" height="134.5" fill="#fff" stroke="#000" stroke-width="1.7"/>
<path d="M1091.9 890.7H1142.7" stroke="#000000" stroke-width="1.9"/>
<rect x="1113.6" y="886.8" width="7.8" height="7.8" fill="none" stroke="#000000" stroke-width="1.75"/>
<text transform="translate(1146.8 898.7) scale(1 1.1)" font-family="'Liberation Sans', Arial, sans-serif" font-size="19.6" word-spacing="-0.5">LSM [19]</text>
<path d="M1091.9 916.9H1142.7" stroke="#4DBEEE" stroke-width="1.8"/>
<rect x="1113.6" y="913" width="7.8" height="7.8" fill="none" stroke="#4DBEEE" stroke-width="1.75"/>
<text transform="translate(1146.8 924.9) scale(1 1.1)" font-family="'Liberation Sans', Arial, sans-serif" font-size="19.6" word-spacing="-0.5">PSC [18]</text>
<path d="M1091.9 943H1142.7" stroke="#7E2F8E" stroke-width="1.7"/>
<path d="M1117.5 938.2L1117.5 947.8M1112.7 943L1122.3 943M1114.1 939.6L1120.9 946.4M1114.1 946.4L1120.9 939.6" stroke="#7E2F8E" stroke-width="1.75" stroke-linecap="round"/>
<text transform="translate(1146.8 951) scale(1 1.1)" font-family="'Liberation Sans', Arial, sans-serif" font-size="19.6" word-spacing="-0.5">MuLE [12]</text>
<path d="M1091.9 969.1H1142.7" stroke="#00FF00" stroke-width="2.0"/>
<path d="M1117.5 964.3L1117.5 973.9M1112.7 969.1L1122.3 969.1M1114.1 965.7L1120.9 972.5M1114.1 972.5L1120.9 965.7" stroke="#00FF00" stroke-width="1.75" stroke-linecap="round"/>
<text transform="translate(1146.8 977.1) scale(1 1.1)" font-family="'Liberation Sans', Arial, sans-serif" font-size="19.6" word-spacing="-0.5">GCCM [21]</text>
<path d="M1091.9 994.9H1142.7" stroke="#FF0000" stroke-width="1.9"/>
<path d="M1117.5 987.6L1122.8 994.9L1117.5 1002.2L1112.2 994.9Z" fill="none" stroke="#FF0000" stroke-width="1.75" stroke-linejoin="miter"/>
<text transform="translate(1146.8 1002.9) scale(1 1.1)" font-family="'Liberation Sans', Arial, sans-serif" font-size="19.6" word-spacing="-0.5">Proposed</text>
<text x="995.3" y="1145.5" text-anchor="middle" font-family="'Liberation Serif', 'Times New Roman', serif" font-size="36">(e)</text>
</g>
<g>
<path d="M1459.96 1027.9V1021.9M1459.96 586.9V592.9M1537.81 1027.9V1021.9M1537.81 586.9V592.9M1615.67 1027.9V1021.9M1615.67 586.9V592.9M1693.53 1027.9V1021.9M1693.53 586.9V592.9M1771.39 1027.9V1021.9M1771.39 586.9V592.9M1849.24 1027.9V1021.9M1849.24 586.9V592.9M1382.1 917.65H1388.1M1927.1 917.65H1921.1M1382.1 807.4H1388.1M1927.1 807.4H1921.1M1382.1 697.15H1388.1M1927.1 697.15H1921.1" stroke="#000" stroke-width="1.7" fill="none"/>
<path d="M1387.8 906.8L1387.8 885.9L1515 684.1L1894.9 610.2" fill="none" stroke="#000000" stroke-width="1.9" stroke-linejoin="round"/>
<rect x="1383.9" y="902.9" width="7.8" height="7.8" fill="none" stroke="#000000" stroke-width="1.75"/>
<rect x="1383.9" y="882" width="7.8" height="7.8" fill="none" stroke="#000000" stroke-width="1.75"/>
<rect x="1511.1" y="680.2" width="7.8" height="7.8" fill="none" stroke="#000000" stroke-width="1.75"/>
<rect x="1891" y="606.3" width="7.8" height="7.8" fill="none" stroke="#000000" stroke-width="1.75"/>
<path d="M1394.2 888L1395.1 870.1L1490.4 679.4L1578.6 658.1" fill="none" stroke="#4DBEEE" stroke-width="1.8" stroke-linejoin="round"/>
<rect x="1390.3" y="884.1" width="7.8" height="7.8" fill="none" stroke="#4DBEEE" stroke-width="1.75"/>
<rect x="1391.2" y="866.2" width="7.8" height="7.8" fill="none" stroke="#4DBEEE" stroke-width="1.75"/>
<rect x="1486.5" y="675.5" width="7.8" height="7.8" fill="none" stroke="#4DBEEE" stroke-width="1.75"/>
<rect x="1574.7" y="654.2" width="7.8" height="7.8" fill="none" stroke="#4DBEEE" stroke-width="1.75"/>
<path d="M1386.1 1015.4L1390.4 914.5L1511.5 668.5L1838.7 603.8" fill="none" stroke="#7E2F8E" stroke-width="1.7" stroke-linejoin="round"/>
<path d="M1386.1 1010.6L1386.1 1020.2M1381.3 1015.4L1390.9 1015.4M1382.7 1012L1389.5 1018.8M1382.7 1018.8L1389.5 1012" stroke="#7E2F8E" stroke-width="1.75" stroke-linecap="round"/>
<path d="M1390.4 909.7L1390.4 919.3M1385.6 914.5L1395.2 914.5M1387 911.1L1393.8 917.9M1387 917.9L1393.8 911.1" stroke="#7E2F8E" stroke-width="1.75" stroke-linecap="round"/>
<path d="M1511.5 663.7L1511.5 673.3M1506.7 668.5L1516.3 668.5M1508.1 665.1L1514.9 671.9M1508.1 671.9L1514.9 665.1" stroke="#7E2F8E" stroke-width="1.75" stroke-linecap="round"/>
<path d="M1838.7 599L1838.7 608.6M1833.9 603.8L1843.5 603.8M1835.3 600.4L1842.1 607.2M1835.3 607.2L1842.1 600.4" stroke="#7E2F8E" stroke-width="1.75" stroke-linecap="round"/>
<path d="M1387.8 876.9L1390.9 812.8L1515.3 676.3L1585.6 662.3" fill="none" stroke="#00FF00" stroke-width="2.0" stroke-linejoin="round"/>
<path d="M1387.8 872.1L1387.8 881.7M1383 876.9L1392.6 876.9M1384.4 873.5L1391.2 880.3M1384.4 880.3L1391.2 873.5" stroke="#00FF00" stroke-width="1.75" stroke-linecap="round"/>
<path d="M1390.9 808L1390.9 817.6M1386.1 812.8L1395.7 812.8M1387.5 809.4L1394.3 816.2M1387.5 816.2L1394.3 809.4" stroke="#00FF00" stroke-width="1.75" stroke-linecap="round"/>
<path d="M1515.3 671.5L1515.3 681.1M1510.5 676.3L1520.1 676.3M1511.9 672.9L1518.7 679.7M1511.9 679.7L1518.7 672.9" stroke="#00FF00" stroke-width="1.75" stroke-linecap="round"/>
<path d="M1585.6 657.5L1585.6 667.1M1580.8 662.3L1590.4 662.3M1582.2 658.9L1589 665.7M1582.2 665.7L1589 658.9" stroke="#00FF00" stroke-width="1.75" stroke-linecap="round"/>
<path d="M1386.1 861.5L1390.2 807.3L1499.1 668L1601.8 648.5" fill="none" stroke="#FF0000" stroke-width="1.9" stroke-linejoin="round"/>
<path d="M1386.1 854.2L1391.4 861.5L1386.1 868.8L1380.8 861.5Z" fill="none" stroke="#FF0000" stroke-width="1.75" stroke-linejoin="miter"/>
<path d="M1390.2 800L1395.5 807.3L1390.2 814.6L1384.9 807.3Z" fill="none" stroke="#FF0000" stroke-width="1.75" stroke-linejoin="miter"/>
<path d="M1499.1 660.7L1504.4 668L1499.1 675.3L1493.8 668Z" fill="none" stroke="#FF0000" stroke-width="1.75" stroke-linejoin="miter"/>
<path d="M1601.8 641.2L1607.1 648.5L1601.8 655.8L1596.5 648.5Z" fill="none" stroke="#FF0000" stroke-width="1.75" stroke-linejoin="miter"/>
<rect x="1382.1" y="586.9" width="545" height="441" fill="none" stroke="#000" stroke-width="1.7"/>
<g font-family="'Liberation Sans', Arial, sans-serif" font-size="21.6" fill="#000">
<text transform="translate(1382.1 1057.9) scale(1 1.08)" text-anchor="middle">0</text>
<text transform="translate(1459.96 1057.9) scale(1 1.08)" text-anchor="middle">0.02</text>
<text transform="translate(1537.81 1057.9) scale(1 1.08)" text-anchor="middle">0.04</text>
<text transform="translate(1615.67 1057.9) scale(1 1.08)" text-anchor="middle">0.06</text>
<text transform="translate(1693.53 1057.9) scale(1 1.08)" text-anchor="middle">0.08</text>
<text transform="translate(1771.39 1057.9) scale(1 1.08)" text-anchor="middle">0.1</text>
<text transform="translate(1849.24 1057.9) scale(1 1.08)" text-anchor="middle">0.12</text>
<text transform="translate(1927.1 1057.9) scale(1 1.08)" text-anchor="middle">0.14</text>
<text transform="translate(1374.3 1036.1) scale(1 1.07)" text-anchor="end">30</text>
<text transform="translate(1374.3 925.85) scale(1 1.07)" text-anchor="end">35</text>
<text transform="translate(1374.3 815.6) scale(1 1.07)" text-anchor="end">40</text>
<text transform="translate(1374.3 705.35) scale(1 1.07)" text-anchor="end">45</text>
<text transform="translate(1374.3 595.1) scale(1 1.07)" text-anchor="end">50</text>
</g>
<text x="1653.9" y="1087.8" text-anchor="middle" font-family="'Liberation Sans', Arial, sans-serif" font-size="22">[bpp]</text>
<text transform="translate(1340.2 807.4) rotate(-90) scale(1 1.03)" text-anchor="middle" font-family="'Liberation Sans', Arial, sans-serif" font-size="22.6">Y-PSNR(dB)</text>
<rect x="1748.1" y="875.4" width="161.9" height="134.5" fill="#fff" stroke="#000" stroke-width="1.7"/>
<path d="M1752.7 890.7H1803.5" stroke="#000000" stroke-width="1.9"/>
<rect x="1774.4" y="886.8" width="7.8" height="7.8" fill="none" stroke="#000000" stroke-width="1.75"/>
<text transform="translate(1807.6 898.7) scale(1 1.1)" font-family="'Liberation Sans', Arial, sans-serif" font-size="19.6" word-spacing="-0.5">LSM [19]</text>
<path d="M1752.7 916.9H1803.5" stroke="#4DBEEE" stroke-width="1.8"/>
<rect x="1774.4" y="913" width="7.8" height="7.8" fill="none" stroke="#4DBEEE" stroke-width="1.75"/>
<text transform="translate(1807.6 924.9) scale(1 1.1)" font-family="'Liberation Sans', Arial, sans-serif" font-size="19.6" word-spacing="-0.5">PSC [18]</text>
<path d="M1752.7 943H1803.5" stroke="#7E2F8E" stroke-width="1.7"/>
<path d="M1778.3 938.2L1778.3 947.8M1773.5 943L1783.1 943M1774.9 939.6L1781.7 946.4M1774.9 946.4L1781.7 939.6" stroke="#7E2F8E" stroke-width="1.75" stroke-linecap="round"/>
<text transform="translate(1807.6 951) scale(1 1.1)" font-family="'Liberation Sans', Arial, sans-serif" font-size="19.6" word-spacing="-0.5">MuLE [12]</text>
<path d="M1752.7 969.1H1803.5" stroke="#00FF00" stroke-width="2.0"/>
<path d="M1778.3 964.3L1778.3 973.9M1773.5 969.1L1783.1 969.1M1774.9 965.7L1781.7 972.5M1774.9 972.5L1781.7 965.7" stroke="#00FF00" stroke-width="1.75" stroke-linecap="round"/>
<text transform="translate(1807.6 977.1) scale(1 1.1)" font-family="'Liberation Sans', Arial, sans-serif" font-size="19.6" word-spacing="-0.5">GCCM [21]</text>
<path d="M1752.7 994.9H1803.5" stroke="#FF0000" stroke-width="1.9"/>
<path d="M1778.3 987.6L1783.6 994.9L1778.3 1002.2L1773 994.9Z" fill="none" stroke="#FF0000" stroke-width="1.75" stroke-linejoin="miter"/>
<text transform="translate(1807.6 1002.9) scale(1 1.1)" font-family="'Liberation Sans', Arial, sans-serif" font-size="19.6" word-spacing="-0.5">Proposed</text>
<text x="1656.1" y="1145.5" text-anchor="middle" font-family="'Liberation Serif', 'Times New Roman', serif" font-size="36">(f)</text>
</g>
<g>
<path d="M475.79 1632.8V1626.8M475.79 1191.1V1197.1M553.57 1632.8V1626.8M553.57 1191.1V1197.1M631.36 1632.8V1626.8M631.36 1191.1V1197.1M709.14 1632.8V1626.8M709.14 1191.1V1197.1M786.93 1632.8V1626.8M786.93 1191.1V1197.1M864.71 1632.8V1626.8M864.71 1191.1V1197.1M398 1544.46H404M942.5 1544.46H936.5M398 1456.12H404M942.5 1456.12H936.5M398 1367.78H404M942.5 1367.78H936.5M398 1279.44H404M942.5 1279.44H936.5" stroke="#000" stroke-width="1.7" fill="none"/>
<path d="M411.9 1432.2L414.5 1418.4L468 1338.9L804.3 1275" fill="none" stroke="#000000" stroke-width="1.9" stroke-linejoin="round"/>
<rect x="408" y="1428.3" width="7.8" height="7.8" fill="none" stroke="#000000" stroke-width="1.75"/>
<rect x="410.6" y="1414.5" width="7.8" height="7.8" fill="none" stroke="#000000" stroke-width="1.75"/>
<rect x="464.1" y="1335" width="7.8" height="7.8" fill="none" stroke="#000000" stroke-width="1.75"/>
<rect x="800.4" y="1271.1" width="7.8" height="7.8" fill="none" stroke="#000000" stroke-width="1.75"/>
<path d="M415.3 1439.1L417.9 1420.1L444.7 1339.7L748.8 1277.5" fill="none" stroke="#4DBEEE" stroke-width="1.8" stroke-linejoin="round"/>
<rect x="411.4" y="1435.2" width="7.8" height="7.8" fill="none" stroke="#4DBEEE" stroke-width="1.75"/>
<rect x="414" y="1416.2" width="7.8" height="7.8" fill="none" stroke="#4DBEEE" stroke-width="1.75"/>
<rect x="440.8" y="1335.8" width="7.8" height="7.8" fill="none" stroke="#4DBEEE" stroke-width="1.75"/>
<rect x="744.9" y="1273.6" width="7.8" height="7.8" fill="none" stroke="#4DBEEE" stroke-width="1.75"/>
<path d="M405.1 1553.2L414.1 1484L446.4 1396.8L766.7 1268.6" fill="none" stroke="#7E2F8E" stroke-width="1.7" stroke-linejoin="round"/>
<path d="M405.1 1548.4L405.1 1558M400.3 1553.2L409.9 1553.2M401.7 1549.8L408.5 1556.6M401.7 1556.6L408.5 1549.8" stroke="#7E2F8E" stroke-width="1.75" stroke-linecap="round"/>
<path d="M414.1 1479.2L414.1 1488.8M409.3 1484L418.9 1484M410.7 1480.6L417.5 1487.4M410.7 1487.4L417.5 1480.6" stroke="#7E2F8E" stroke-width="1.75" stroke-linecap="round"/>
<path d="M446.4 1392L446.4 1401.6M441.6 1396.8L451.2 1396.8M443 1393.4L449.8 1400.2M443 1400.2L449.8 1393.4" stroke="#7E2F8E" stroke-width="1.75" stroke-linecap="round"/>
<path d="M766.7 1263.8L766.7 1273.4M761.9 1268.6L771.5 1268.6M763.3 1265.2L770.1 1272M763.3 1272L770.1 1265.2" stroke="#7E2F8E" stroke-width="1.75" stroke-linecap="round"/>
<path d="M413 1430L415.3 1414L442.6 1347.2L745.8 1282.6L926.2 1267.6" fill="none" stroke="#00FF00" stroke-width="2.0" stroke-linejoin="round"/>
<path d="M413 1425.2L413 1434.8M408.2 1430L417.8 1430M409.6 1426.6L416.4 1433.4M409.6 1433.4L416.4 1426.6" stroke="#00FF00" stroke-width="1.75" stroke-linecap="round"/>
<path d="M415.3 1409.2L415.3 1418.8M410.5 1414L420.1 1414M411.9 1410.6L418.7 1417.4M411.9 1417.4L418.7 1410.6" stroke="#00FF00" stroke-width="1.75" stroke-linecap="round"/>
<path d="M442.6 1342.4L442.6 1352M437.8 1347.2L447.4 1347.2M439.2 1343.8L446 1350.6M439.2 1350.6L446 1343.8" stroke="#00FF00" stroke-width="1.75" stroke-linecap="round"/>
<path d="M745.8 1277.8L745.8 1287.4M741 1282.6L750.6 1282.6M742.4 1279.2L749.2 1286M742.4 1286L749.2 1279.2" stroke="#00FF00" stroke-width="1.75" stroke-linecap="round"/>
<path d="M926.2 1262.8L926.2 1272.4M921.4 1267.6L931 1267.6M922.8 1264.2L929.6 1271M922.8 1271L929.6 1264.2" stroke="#00FF00" stroke-width="1.75" stroke-linecap="round"/>
<path d="M408.4 1435.6L413.6 1397.3L436.6 1344.4L748.5 1272.6" fill="none" stroke="#FF0000" stroke-width="1.9" stroke-linejoin="round"/>
<path d="M408.4 1428.3L413.7 1435.6L408.4 1442.9L403.1 1435.6Z" fill="none" stroke="#FF0000" stroke-width="1.75" stroke-linejoin="miter"/>
<path d="M413.6 1390L418.9 1397.3L413.6 1404.6L408.3 1397.3Z" fill="none" stroke="#FF0000" stroke-width="1.75" stroke-linejoin="miter"/>
<path d="M436.6 1337.1L441.9 1344.4L436.6 1351.7L431.3 1344.4Z" fill="none" stroke="#FF0000" stroke-width="1.75" stroke-linejoin="miter"/>
<path d="M748.5 1265.3L753.8 1272.6L748.5 1279.9L743.2 1272.6Z" fill="none" stroke="#FF0000" stroke-width="1.75" stroke-linejoin="miter"/>
<rect x="398" y="1191.1" width="544.5" height="441.7" fill="none" stroke="#000" stroke-width="1.7"/>
<g font-family="'Liberation Sans', Arial, sans-serif" font-size="21.6" fill="#000">
<text transform="translate(398 1662.8) scale(1 1.08)" text-anchor="middle">0</text>
<text transform="translate(475.79 1662.8) scale(1 1.08)" text-anchor="middle">0.02</text>
<text transform="translate(553.57 1662.8) scale(1 1.08)" text-anchor="middle">0.04</text>
<text transform="translate(631.36 1662.8) scale(1 1.08)" text-anchor="middle">0.06</text>
<text transform="translate(709.14 1662.8) scale(1 1.08)" text-anchor="middle">0.08</text>
<text transform="translate(786.93 1662.8) scale(1 1.08)" text-anchor="middle">0.1</text>
<text transform="translate(864.71 1662.8) scale(1 1.08)" text-anchor="middle">0.12</text>
<text transform="translate(942.5 1662.8) scale(1 1.08)" text-anchor="middle">0.14</text>
<text transform="translate(390.2 1641) scale(1 1.07)" text-anchor="end">20</text>
<text transform="translate(390.2 1552.66) scale(1 1.07)" text-anchor="end">25</text>
<text transform="translate(390.2 1464.32) scale(1 1.07)" text-anchor="end">30</text>
<text transform="translate(390.2 1375.98) scale(1 1.07)" text-anchor="end">35</text>
<text transform="translate(390.2 1287.64) scale(1 1.07)" text-anchor="end">40</text>
<text transform="translate(390.2 1199.3) scale(1 1.07)" text-anchor="end">45</text>
</g>
<text x="669.55" y="1692.7" text-anchor="middle" font-family="'Liberation Sans', Arial, sans-serif" font-size="22">[bpp]</text>
<text transform="translate(356.1 1411.95) rotate(-90) scale(1 1.03)" text-anchor="middle" font-family="'Liberation Sans', Arial, sans-serif" font-size="22.6">Y-PSNR(dB)</text>
<rect x="763.5" y="1480.3" width="161.9" height="134.5" fill="#fff" stroke="#000" stroke-width="1.7"/>
<path d="M768.1 1495.6H818.9" stroke="#000000" stroke-width="1.9"/>
<rect x="789.8" y="1491.7" width="7.8" height="7.8" fill="none" stroke="#000000" stroke-width="1.75"/>
<text transform="translate(823 1503.6) scale(1 1.1)" font-family="'Liberation Sans', Arial, sans-serif" font-size="19.6" word-spacing="-0.5">LSM [19]</text>
<path d="M768.1 1521.8H818.9" stroke="#4DBEEE" stroke-width="1.8"/>
<rect x="789.8" y="1517.9" width="7.8" height="7.8" fill="none" stroke="#4DBEEE" stroke-width="1.75"/>
<text transform="translate(823 1529.8) scale(1 1.1)" font-family="'Liberation Sans', Arial, sans-serif" font-size="19.6" word-spacing="-0.5">PSC [18]</text>
<path d="M768.1 1547.9H818.9" stroke="#7E2F8E" stroke-width="1.7"/>
<path d="M793.7 1543.1L793.7 1552.7M788.9 1547.9L798.5 1547.9M790.3 1544.5L797.1 1551.3M790.3 1551.3L797.1 1544.5" stroke="#7E2F8E" stroke-width="1.75" stroke-linecap="round"/>
<text transform="translate(823 1555.9) scale(1 1.1)" font-family="'Liberation Sans', Arial, sans-serif" font-size="19.6" word-spacing="-0.5">MuLE [12]</text>
<path d="M768.1 1574H818.9" stroke="#00FF00" stroke-width="2.0"/>
<path d="M793.7 1569.2L793.7 1578.8M788.9 1574L798.5 1574M790.3 1570.6L797.1 1577.4M790.3 1577.4L797.1 1570.6" stroke="#00FF00" stroke-width="1.75" stroke-linecap="round"/>
<text transform="translate(823 1582) scale(1 1.1)" font-family="'Liberation Sans', Arial, sans-serif" font-size="19.6" word-spacing="-0.5">GCCM [21]</text>
<path d="M768.1 1599.8H818.9" stroke="#FF0000" stroke-width="1.9"/>
<path d="M793.7 1592.5L799 1599.8L793.7 1607.1L788.4 1599.8Z" fill="none" stroke="#FF0000" stroke-width="1.75" stroke-linejoin="miter"/>
<text transform="translate(823 1607.8) scale(1 1.1)" font-family="'Liberation Sans', Arial, sans-serif" font-size="19.6" word-spacing="-0.5">Proposed</text>
<text x="671.9" y="1739.4" text-anchor="middle" font-family="'Liberation Serif', 'Times New Roman', serif" font-size="36">(g)</text>
</g>
<g>
<path d="M1195.33 1632.8V1626.8M1195.33 1191.1V1197.1M1331.45 1632.8V1626.8M1331.45 1191.1V1197.1M1467.58 1632.8V1626.8M1467.58 1191.1V1197.1M1059.2 1544.46H1065.2M1603.7 1544.46H1597.7M1059.2 1456.12H1065.2M1603.7 1456.12H1597.7M1059.2 1367.78H1065.2M1603.7 1367.78H1597.7M1059.2 1279.44H1065.2M1603.7 1279.44H1597.7" stroke="#000" stroke-width="1.7" fill="none"/>
<path d="M1065.6 1447.6L1065.6 1424.2L1218.5 1264.3L1488.9 1204.8" fill="none" stroke="#000000" stroke-width="1.9" stroke-linejoin="round"/>
<rect x="1061.7" y="1443.7" width="7.8" height="7.8" fill="none" stroke="#000000" stroke-width="1.75"/>
<rect x="1061.7" y="1420.3" width="7.8" height="7.8" fill="none" stroke="#000000" stroke-width="1.75"/>
<rect x="1214.6" y="1260.4" width="7.8" height="7.8" fill="none" stroke="#000000" stroke-width="1.75"/>
<rect x="1485" y="1200.9" width="7.8" height="7.8" fill="none" stroke="#000000" stroke-width="1.75"/>
<path d="M1068.8 1448.5L1070.6 1428.7L1180 1266L1386.8 1215.8" fill="none" stroke="#4DBEEE" stroke-width="1.8" stroke-linejoin="round"/>
<rect x="1064.9" y="1444.6" width="7.8" height="7.8" fill="none" stroke="#4DBEEE" stroke-width="1.75"/>
<rect x="1066.7" y="1424.8" width="7.8" height="7.8" fill="none" stroke="#4DBEEE" stroke-width="1.75"/>
<rect x="1176.1" y="1262.1" width="7.8" height="7.8" fill="none" stroke="#4DBEEE" stroke-width="1.75"/>
<rect x="1382.9" y="1211.9" width="7.8" height="7.8" fill="none" stroke="#4DBEEE" stroke-width="1.75"/>
<path d="M1062 1545.1L1066.1 1490L1184.3 1269.8L1555 1206.9" fill="none" stroke="#7E2F8E" stroke-width="1.7" stroke-linejoin="round"/>
<path d="M1062 1540.3L1062 1549.9M1057.2 1545.1L1066.8 1545.1M1058.6 1541.7L1065.4 1548.5M1058.6 1548.5L1065.4 1541.7" stroke="#7E2F8E" stroke-width="1.75" stroke-linecap="round"/>
<path d="M1066.1 1485.2L1066.1 1494.8M1061.3 1490L1070.9 1490M1062.7 1486.6L1069.5 1493.4M1062.7 1493.4L1069.5 1486.6" stroke="#7E2F8E" stroke-width="1.75" stroke-linecap="round"/>
<path d="M1184.3 1265L1184.3 1274.6M1179.5 1269.8L1189.1 1269.8M1180.9 1266.4L1187.7 1273.2M1180.9 1273.2L1187.7 1266.4" stroke="#7E2F8E" stroke-width="1.75" stroke-linecap="round"/>
<path d="M1555 1202.1L1555 1211.7M1550.2 1206.9L1559.8 1206.9M1551.6 1203.5L1558.4 1210.3M1551.6 1210.3L1558.4 1203.5" stroke="#7E2F8E" stroke-width="1.75" stroke-linecap="round"/>
<path d="M1064.7 1438.6L1066.1 1402.9L1182.3 1279L1303.6 1252.6" fill="none" stroke="#00FF00" stroke-width="2.0" stroke-linejoin="round"/>
<path d="M1064.7 1433.8L1064.7 1443.4M1059.9 1438.6L1069.5 1438.6M1061.3 1435.2L1068.1 1442M1061.3 1442L1068.1 1435.2" stroke="#00FF00" stroke-width="1.75" stroke-linecap="round"/>
<path d="M1066.1 1398.1L1066.1 1407.7M1061.3 1402.9L1070.9 1402.9M1062.7 1399.5L1069.5 1406.3M1062.7 1406.3L1069.5 1399.5" stroke="#00FF00" stroke-width="1.75" stroke-linecap="round"/>
<path d="M1182.3 1274.2L1182.3 1283.8M1177.5 1279L1187.1 1279M1178.9 1275.6L1185.7 1282.4M1178.9 1282.4L1185.7 1275.6" stroke="#00FF00" stroke-width="1.75" stroke-linecap="round"/>
<path d="M1303.6 1247.8L1303.6 1257.4M1298.8 1252.6L1308.4 1252.6M1300.2 1249.2L1307 1256M1300.2 1256L1307 1249.2" stroke="#00FF00" stroke-width="1.75" stroke-linecap="round"/>
<path d="M1061.3 1446.7L1066.1 1387.1L1184 1264L1358.2 1224.2" fill="none" stroke="#FF0000" stroke-width="1.9" stroke-linejoin="round"/>
<path d="M1061.3 1439.4L1066.6 1446.7L1061.3 1454L1056 1446.7Z" fill="none" stroke="#FF0000" stroke-width="1.75" stroke-linejoin="miter"/>
<path d="M1066.1 1379.8L1071.4 1387.1L1066.1 1394.4L1060.8 1387.1Z" fill="none" stroke="#FF0000" stroke-width="1.75" stroke-linejoin="miter"/>
<path d="M1184 1256.7L1189.3 1264L1184 1271.3L1178.7 1264Z" fill="none" stroke="#FF0000" stroke-width="1.75" stroke-linejoin="miter"/>
<path d="M1358.2 1216.9L1363.5 1224.2L1358.2 1231.5L1352.9 1224.2Z" fill="none" stroke="#FF0000" stroke-width="1.75" stroke-linejoin="miter"/>
<rect x="1059.2" y="1191.1" width="544.5" height="441.7" fill="none" stroke="#000" stroke-width="1.7"/>
<g font-family="'Liberation Sans', Arial, sans-serif" font-size="21.6" fill="#000">
<text transform="translate(1059.2 1662.8) scale(1 1.08)" text-anchor="middle">0</text>
<text transform="translate(1195.33 1662.8) scale(1 1.08)" text-anchor="middle">0.05</text>
<text transform="translate(1331.45 1662.8) scale(1 1.08)" text-anchor="middle">0.1</text>
<text transform="translate(1467.58 1662.8) scale(1 1.08)" text-anchor="middle">0.15</text>
<text transform="translate(1603.7 1662.8) scale(1 1.08)" text-anchor="middle">0.2</text>
<text transform="translate(1051.4 1641) scale(1 1.07)" text-anchor="end">25</text>
<text transform="translate(1051.4 1552.66) scale(1 1.07)" text-anchor="end">30</text>
<text transform="translate(1051.4 1464.32) scale(1 1.07)" text-anchor="end">35</text>
<text transform="translate(1051.4 1375.98) scale(1 1.07)" text-anchor="end">40</text>
<text transform="translate(1051.4 1287.64) scale(1 1.07)" text-anchor="end">45</text>
<text transform="translate(1051.4 1199.3) scale(1 1.07)" text-anchor="end">50</text>
</g>
<text x="1330.75" y="1692.7" text-anchor="middle" font-family="'Liberation Sans', Arial, sans-serif" font-size="22">[bpp]</text>
<text transform="translate(1017.3 1411.95) rotate(-90) scale(1 1.03)" text-anchor="middle" font-family="'Liberation Sans', Arial, sans-serif" font-size="22.6">Y-PSNR(dB)</text>
<rect x="1424.7" y="1480.3" width="161.9" height="134.5" fill="#fff" stroke="#000" stroke-width="1.7"/>
<path d="M1429.3 1495.6H1480.1" stroke="#000000" stroke-width="1.9"/>
<rect x="1451" y="1491.7" width="7.8" height="7.8" fill="none" stroke="#000000" stroke-width="1.75"/>
<text transform="translate(1484.2 1503.6) scale(1 1.1)" font-family="'Liberation Sans', Arial, sans-serif" font-size="19.6" word-spacing="-0.5">LSM [19]</text>
<path d="M1429.3 1521.8H1480.1" stroke="#4DBEEE" stroke-width="1.8"/>
<rect x="1451" y="1517.9" width="7.8" height="7.8" fill="none" stroke="#4DBEEE" stroke-width="1.75"/>
<text transform="translate(1484.2 1529.8) scale(1 1.1)" font-family="'Liberation Sans', Arial, sans-serif" font-size="19.6" word-spacing="-0.5">PSC [18]</text>
<path d="M1429.3 1547.9H1480.1" stroke="#7E2F8E" stroke-width="1.7"/>
<path d="M1454.9 1543.1L1454.9 1552.7M1450.1 1547.9L1459.7 1547.9M1451.5 1544.5L1458.3 1551.3M1451.5 1551.3L1458.3 1544.5" stroke="#7E2F8E" stroke-width="1.75" stroke-linecap="round"/>
<text transform="translate(1484.2 1555.9) scale(1 1.1)" font-family="'Liberation Sans', Arial, sans-serif" font-size="19.6" word-spacing="-0.5">MuLE [12]</text>
<path d="M1429.3 1574H1480.1" stroke="#00FF00" stroke-width="2.0"/>
<path d="M1454.9 1569.2L1454.9 1578.8M1450.1 1574L1459.7 1574M1451.5 1570.6L1458.3 1577.4M1451.5 1577.4L1458.3 1570.6" stroke="#00FF00" stroke-width="1.75" stroke-linecap="round"/>
<text transform="translate(1484.2 1582) scale(1 1.1)" font-family="'Liberation Sans', Arial, sans-serif" font-size="19.6" word-spacing="-0.5">GCCM [21]</text>
<path d="M1429.3 1599.8H1480.1" stroke="#FF0000" stroke-width="1.9"/>
<path d="M1454.9 1592.5L1460.2 1599.8L1454.9 1607.1L1449.6 1599.8Z" fill="none" stroke="#FF0000" stroke-width="1.75" stroke-linejoin="miter"/>
<text transform="translate(1484.2 1607.8) scale(1 1.1)" font-family="'Liberation Sans', Arial, sans-serif" font-size="19.6" word-spacing="-0.5">Proposed</text>
<text x="1332.6" y="1739.6" text-anchor="middle" font-family="'Liberation Serif', 'Times New Roman', serif" font-size="36">(h)</text>
</g>
<g>
<path d="M475.79 2222.4V2216.4M475.79 1781.4V1787.4M553.57 2222.4V2216.4M553.57 1781.4V1787.4M631.36 2222.4V2216.4M631.36 1781.4V1787.4M709.14 2222.4V2216.4M709.14 1781.4V1787.4M786.93 2222.4V2216.4M786.93 1781.4V1787.4M864.71 2222.4V2216.4M864.71 1781.4V1787.4M398 2112.15H404M942.5 2112.15H936.5M398 2001.9H404M942.5 2001.9H936.5M398 1891.65H404M942.5 1891.65H936.5" stroke="#000" stroke-width="1.7" fill="none"/>
<path d="M420.5 2018L427.6 1993.1L451.6 1939.5L789.1 1831.9" fill="none" stroke="#000000" stroke-width="1.9" stroke-linejoin="round"/>
<rect x="416.6" y="2014.1" width="7.8" height="7.8" fill="none" stroke="#000000" stroke-width="1.75"/>
<rect x="423.7" y="1989.2" width="7.8" height="7.8" fill="none" stroke="#000000" stroke-width="1.75"/>
<rect x="447.7" y="1935.6" width="7.8" height="7.8" fill="none" stroke="#000000" stroke-width="1.75"/>
<rect x="785.2" y="1828" width="7.8" height="7.8" fill="none" stroke="#000000" stroke-width="1.75"/>
<path d="M419.3 2024.6L424.7 1996.6L449.5 1911.5L600.7 1843.9" fill="none" stroke="#4DBEEE" stroke-width="1.8" stroke-linejoin="round"/>
<rect x="415.4" y="2020.7" width="7.8" height="7.8" fill="none" stroke="#4DBEEE" stroke-width="1.75"/>
<rect x="420.8" y="1992.7" width="7.8" height="7.8" fill="none" stroke="#4DBEEE" stroke-width="1.75"/>
<rect x="445.6" y="1907.6" width="7.8" height="7.8" fill="none" stroke="#4DBEEE" stroke-width="1.75"/>
<rect x="596.8" y="1840" width="7.8" height="7.8" fill="none" stroke="#4DBEEE" stroke-width="1.75"/>
<path d="M403.3 2157.6L410.4 2081L454.2 1978.4L900.3 1805.2" fill="none" stroke="#7E2F8E" stroke-width="1.7" stroke-linejoin="round"/>
<path d="M403.3 2152.8L403.3 2162.4M398.5 2157.6L408.1 2157.6M399.9 2154.2L406.7 2161M399.9 2161L406.7 2154.2" stroke="#7E2F8E" stroke-width="1.75" stroke-linecap="round"/>
<path d="M410.4 2076.2L410.4 2085.8M405.6 2081L415.2 2081M407 2077.6L413.8 2084.4M407 2084.4L413.8 2077.6" stroke="#7E2F8E" stroke-width="1.75" stroke-linecap="round"/>
<path d="M454.2 1973.6L454.2 1983.2M449.4 1978.4L459 1978.4M450.8 1975L457.6 1981.8M450.8 1981.8L457.6 1975" stroke="#7E2F8E" stroke-width="1.75" stroke-linecap="round"/>
<path d="M900.3 1800.4L900.3 1810M895.5 1805.2L905.1 1805.2M896.9 1801.8L903.7 1808.6M896.9 1808.6L903.7 1801.8" stroke="#7E2F8E" stroke-width="1.75" stroke-linecap="round"/>
<path d="M415.8 2014.5L422.3 1992.5L443.8 1930.8L865.2 1841.1" fill="none" stroke="#00FF00" stroke-width="2.0" stroke-linejoin="round"/>
<path d="M415.8 2009.7L415.8 2019.3M411 2014.5L420.6 2014.5M412.4 2011.1L419.2 2017.9M412.4 2017.9L419.2 2011.1" stroke="#00FF00" stroke-width="1.75" stroke-linecap="round"/>
<path d="M422.3 1987.7L422.3 1997.3M417.5 1992.5L427.1 1992.5M418.9 1989.1L425.7 1995.9M418.9 1995.9L425.7 1989.1" stroke="#00FF00" stroke-width="1.75" stroke-linecap="round"/>
<path d="M443.8 1926L443.8 1935.6M439 1930.8L448.6 1930.8M440.4 1927.4L447.2 1934.2M440.4 1934.2L447.2 1927.4" stroke="#00FF00" stroke-width="1.75" stroke-linecap="round"/>
<path d="M865.2 1836.3L865.2 1845.9M860.4 1841.1L870 1841.1M861.8 1837.7L868.6 1844.5M861.8 1844.5L868.6 1837.7" stroke="#00FF00" stroke-width="1.75" stroke-linecap="round"/>
<path d="M411.6 2022.8L416.4 1996.6L446.1 1924.8L579.5 1834.1" fill="none" stroke="#FF0000" stroke-width="1.9" stroke-linejoin="round"/>
<path d="M411.6 2015.5L416.9 2022.8L411.6 2030.1L406.3 2022.8Z" fill="none" stroke="#FF0000" stroke-width="1.75" stroke-linejoin="miter"/>
<path d="M416.4 1989.3L421.7 1996.6L416.4 2003.9L411.1 1996.6Z" fill="none" stroke="#FF0000" stroke-width="1.75" stroke-linejoin="miter"/>
<path d="M446.1 1917.5L451.4 1924.8L446.1 1932.1L440.8 1924.8Z" fill="none" stroke="#FF0000" stroke-width="1.75" stroke-linejoin="miter"/>
<path d="M579.5 1826.8L584.8 1834.1L579.5 1841.4L574.2 1834.1Z" fill="none" stroke="#FF0000" stroke-width="1.75" stroke-linejoin="miter"/>
<rect x="398" y="1781.4" width="544.5" height="441" fill="none" stroke="#000" stroke-width="1.7"/>
<g font-family="'Liberation Sans', Arial, sans-serif" font-size="21.6" fill="#000">
<text transform="translate(398 2252.4) scale(1 1.08)" text-anchor="middle">0</text>
<text transform="translate(475.79 2252.4) scale(1 1.08)" text-anchor="middle">0.02</text>
<text transform="translate(553.57 2252.4) scale(1 1.08)" text-anchor="middle">0.04</text>
<text transform="translate(631.36 2252.4) scale(1 1.08)" text-anchor="middle">0.06</text>
<text transform="translate(709.14 2252.4) scale(1 1.08)" text-anchor="middle">0.08</text>
<text transform="translate(786.93 2252.4) scale(1 1.08)" text-anchor="middle">0.1</text>
<text transform="translate(864.71 2252.4) scale(1 1.08)" text-anchor="middle">0.12</text>
<text transform="translate(942.5 2252.4) scale(1 1.08)" text-anchor="middle">0.14</text>
<text transform="translate(390.2 2230.6) scale(1 1.07)" text-anchor="end">20</text>
<text transform="translate(390.2 2120.35) scale(1 1.07)" text-anchor="end">25</text>
<text transform="translate(390.2 2010.1) scale(1 1.07)" text-anchor="end">30</text>
<text transform="translate(390.2 1899.85) scale(1 1.07)" text-anchor="end">35</text>
<text transform="translate(390.2 1789.6) scale(1 1.07)" text-anchor="end">40</text>
</g>
<text x="669.55" y="2282.3" text-anchor="middle" font-family="'Liberation Sans', Arial, sans-serif" font-size="22">[bpp]</text>
<text transform="translate(356.1 2001.9) rotate(-90) scale(1 1.03)" text-anchor="middle" font-family="'Liberation Sans', Arial, sans-serif" font-size="22.6">Y-PSNR(dB)</text>
<rect x="763.5" y="2069.9" width="161.9" height="134.5" fill="#fff" stroke="#000" stroke-width="1.7"/>
<path d="M768.1 2085.2H818.9" stroke="#000000" stroke-width="1.9"/>
<rect x="789.8" y="2081.3" width="7.8" height="7.8" fill="none" stroke="#000000" stroke-width="1.75"/>
<text transform="translate(823 2093.2) scale(1 1.1)" font-family="'Liberation Sans', Arial, sans-serif" font-size="19.6" word-spacing="-0.5">LSM [19]</text>
<path d="M768.1 2111.4H818.9" stroke="#4DBEEE" stroke-width="1.8"/>
<rect x="789.8" y="2107.5" width="7.8" height="7.8" fill="none" stroke="#4DBEEE" stroke-width="1.75"/>
<text transform="translate(823 2119.4) scale(1 1.1)" font-family="'Liberation Sans', Arial, sans-serif" font-size="19.6" word-spacing="-0.5">PSC [18]</text>
<path d="M768.1 2137.5H818.9" stroke="#7E2F8E" stroke-width="1.7"/>
<path d="M793.7 2132.7L793.7 2142.3M788.9 2137.5L798.5 2137.5M790.3 2134.1L797.1 2140.9M790.3 2140.9L797.1 2134.1" stroke="#7E2F8E" stroke-width="1.75" stroke-linecap="round"/>
<text transform="translate(823 2145.5) scale(1 1.1)" font-family="'Liberation Sans', Arial, sans-serif" font-size="19.6" word-spacing="-0.5">MuLE [12]</text>
<path d="M768.1 2163.6H818.9" stroke="#00FF00" stroke-width="2.0"/>
<path d="M793.7 2158.8L793.7 2168.4M788.9 2163.6L798.5 2163.6M790.3 2160.2L797.1 2167M790.3 2167L797.1 2160.2" stroke="#00FF00" stroke-width="1.75" stroke-linecap="round"/>
<text transform="translate(823 2171.6) scale(1 1.1)" font-family="'Liberation Sans', Arial, sans-serif" font-size="19.6" word-spacing="-0.5">GCCM [21]</text>
<path d="M768.1 2189.4H818.9" stroke="#FF0000" stroke-width="1.9"/>
<path d="M793.7 2182.1L799 2189.4L793.7 2196.7L788.4 2189.4Z" fill="none" stroke="#FF0000" stroke-width="1.75" stroke-linejoin="miter"/>
<text transform="translate(823 2197.4) scale(1 1.1)" font-family="'Liberation Sans', Arial, sans-serif" font-size="19.6" word-spacing="-0.5">Proposed</text>
<text x="672" y="2351.9" text-anchor="middle" font-family="'Liberation Serif', 'Times New Roman', serif" font-size="36">(i)</text>
</g>
<g>
<path d="M1149.95 2222.4V2216.4M1149.95 1781.4V1787.4M1240.7 2222.4V2216.4M1240.7 1781.4V1787.4M1331.45 2222.4V2216.4M1331.45 1781.4V1787.4M1422.2 2222.4V2216.4M1422.2 1781.4V1787.4M1512.95 2222.4V2216.4M1512.95 1781.4V1787.4M1059.2 2112.15H1065.2M1603.7 2112.15H1597.7M1059.2 2001.9H1065.2M1603.7 2001.9H1597.7M1059.2 1891.65H1065.2M1603.7 1891.65H1597.7" stroke="#000" stroke-width="1.7" fill="none"/>
<path d="M1075.4 2081.2L1077.1 2056.2L1117 1966.8L1594 1853.1" fill="none" stroke="#000000" stroke-width="1.9" stroke-linejoin="round"/>
<rect x="1071.5" y="2077.3" width="7.8" height="7.8" fill="none" stroke="#000000" stroke-width="1.75"/>
<rect x="1073.2" y="2052.3" width="7.8" height="7.8" fill="none" stroke="#000000" stroke-width="1.75"/>
<rect x="1113.1" y="1962.9" width="7.8" height="7.8" fill="none" stroke="#000000" stroke-width="1.75"/>
<rect x="1590.1" y="1849.2" width="7.8" height="7.8" fill="none" stroke="#000000" stroke-width="1.75"/>
<path d="M1077.6 2084.5L1079.6 2062.9L1119.2 1939L1468.5 1849.8" fill="none" stroke="#4DBEEE" stroke-width="1.8" stroke-linejoin="round"/>
<rect x="1073.7" y="2080.6" width="7.8" height="7.8" fill="none" stroke="#4DBEEE" stroke-width="1.75"/>
<rect x="1075.7" y="2059" width="7.8" height="7.8" fill="none" stroke="#4DBEEE" stroke-width="1.75"/>
<rect x="1115.3" y="1935.1" width="7.8" height="7.8" fill="none" stroke="#4DBEEE" stroke-width="1.75"/>
<rect x="1464.6" y="1845.9" width="7.8" height="7.8" fill="none" stroke="#4DBEEE" stroke-width="1.75"/>
<path d="M1065.5 2217.5L1076.6 2126L1118.7 1986.4L1451.5 1838.5" fill="none" stroke="#7E2F8E" stroke-width="1.7" stroke-linejoin="round"/>
<path d="M1065.5 2212.7L1065.5 2222.3M1060.7 2217.5L1070.3 2217.5M1062.1 2214.1L1068.9 2220.9M1062.1 2220.9L1068.9 2214.1" stroke="#7E2F8E" stroke-width="1.75" stroke-linecap="round"/>
<path d="M1076.6 2121.2L1076.6 2130.8M1071.8 2126L1081.4 2126M1073.2 2122.6L1080 2129.4M1073.2 2129.4L1080 2122.6" stroke="#7E2F8E" stroke-width="1.75" stroke-linecap="round"/>
<path d="M1118.7 1981.6L1118.7 1991.2M1113.9 1986.4L1123.5 1986.4M1115.3 1983L1122.1 1989.8M1115.3 1989.8L1122.1 1983" stroke="#7E2F8E" stroke-width="1.75" stroke-linecap="round"/>
<path d="M1451.5 1833.7L1451.5 1843.3M1446.7 1838.5L1456.3 1838.5M1448.1 1835.1L1454.9 1841.9M1448.1 1841.9L1454.9 1835.1" stroke="#7E2F8E" stroke-width="1.75" stroke-linecap="round"/>
<path d="M1073 2073.7L1077.9 2032.1L1114.5 1948.2L1488.4 1856" fill="none" stroke="#00FF00" stroke-width="2.0" stroke-linejoin="round"/>
<path d="M1073 2068.9L1073 2078.5M1068.2 2073.7L1077.8 2073.7M1069.6 2070.3L1076.4 2077.1M1069.6 2077.1L1076.4 2070.3" stroke="#00FF00" stroke-width="1.75" stroke-linecap="round"/>
<path d="M1077.9 2027.3L1077.9 2036.9M1073.1 2032.1L1082.7 2032.1M1074.5 2028.7L1081.3 2035.5M1074.5 2035.5L1081.3 2028.7" stroke="#00FF00" stroke-width="1.75" stroke-linecap="round"/>
<path d="M1114.5 1943.4L1114.5 1953M1109.7 1948.2L1119.3 1948.2M1111.1 1944.8L1117.9 1951.6M1111.1 1951.6L1117.9 1944.8" stroke="#00FF00" stroke-width="1.75" stroke-linecap="round"/>
<path d="M1488.4 1851.2L1488.4 1860.8M1483.6 1856L1493.2 1856M1485 1852.6L1491.8 1859.4M1485 1859.4L1491.8 1852.6" stroke="#00FF00" stroke-width="1.75" stroke-linecap="round"/>
<path d="M1068.8 2080.3L1079.6 2016.3L1103.7 1949L1503.9 1847.8" fill="none" stroke="#FF0000" stroke-width="1.9" stroke-linejoin="round"/>
<path d="M1068.8 2073L1074.1 2080.3L1068.8 2087.6L1063.5 2080.3Z" fill="none" stroke="#FF0000" stroke-width="1.75" stroke-linejoin="miter"/>
<path d="M1079.6 2009L1084.9 2016.3L1079.6 2023.6L1074.3 2016.3Z" fill="none" stroke="#FF0000" stroke-width="1.75" stroke-linejoin="miter"/>
<path d="M1103.7 1941.7L1109 1949L1103.7 1956.3L1098.4 1949Z" fill="none" stroke="#FF0000" stroke-width="1.75" stroke-linejoin="miter"/>
<path d="M1503.9 1840.5L1509.2 1847.8L1503.9 1855.1L1498.6 1847.8Z" fill="none" stroke="#FF0000" stroke-width="1.75" stroke-linejoin="miter"/>
<rect x="1059.2" y="1781.4" width="544.5" height="441" fill="none" stroke="#000" stroke-width="1.7"/>
<g font-family="'Liberation Sans', Arial, sans-serif" font-size="21.6" fill="#000">
<text transform="translate(1059.2 2252.4) scale(1 1.08)" text-anchor="middle">0</text>
<text transform="translate(1149.95 2252.4) scale(1 1.08)" text-anchor="middle">0.02</text>
<text transform="translate(1240.7 2252.4) scale(1 1.08)" text-anchor="middle">0.04</text>
<text transform="translate(1331.45 2252.4) scale(1 1.08)" text-anchor="middle">0.06</text>
<text transform="translate(1422.2 2252.4) scale(1 1.08)" text-anchor="middle">0.08</text>
<text transform="translate(1512.95 2252.4) scale(1 1.08)" text-anchor="middle">0.1</text>
<text transform="translate(1603.7 2252.4) scale(1 1.08)" text-anchor="middle">0.12</text>
<text transform="translate(1051.4 2230.6) scale(1 1.07)" text-anchor="end">25</text>
<text transform="translate(1051.4 2120.35) scale(1 1.07)" text-anchor="end">30</text>
<text transform="translate(1051.4 2010.1) scale(1 1.07)" text-anchor="end">35</text>
<text transform="translate(1051.4 1899.85) scale(1 1.07)" text-anchor="end">40</text>
<text transform="translate(1051.4 1789.6) scale(1 1.07)" text-anchor="end">45</text>
</g>
<text x="1330.75" y="2282.3" text-anchor="middle" font-family="'Liberation Sans', Arial, sans-serif" font-size="22">[bpp]</text>
<text transform="translate(1017.3 2001.9) rotate(-90) scale(1 1.03)" text-anchor="middle" font-family="'Liberation Sans', Arial, sans-serif" font-size="22.6">Y-PSNR(dB)</text>
<rect x="1424.7" y="2069.9" width="161.9" height="134.5" fill="#fff" stroke="#000" stroke-width="1.7"/>
<path d="M1429.3 2085.2H1480.1" stroke="#000000" stroke-width="1.9"/>
<rect x="1451" y="2081.3" width="7.8" height="7.8" fill="none" stroke="#000000" stroke-width="1.75"/>
<text transform="translate(1484.2 2093.2) scale(1 1.1)" font-family="'Liberation Sans', Arial, sans-serif" font-size="19.6" word-spacing="-0.5">LSM [19]</text>
<path d="M1429.3 2111.4H1480.1" stroke="#4DBEEE" stroke-width="1.8"/>
<rect x="1451" y="2107.5" width="7.8" height="7.8" fill="none" stroke="#4DBEEE" stroke-width="1.75"/>
<text transform="translate(1484.2 2119.4) scale(1 1.1)" font-family="'Liberation Sans', Arial, sans-serif" font-size="19.6" word-spacing="-0.5">PSC [18]</text>
<path d="M1429.3 2137.5H1480.1" stroke="#7E2F8E" stroke-width="1.7"/>
<path d="M1454.9 2132.7L1454.9 2142.3M1450.1 2137.5L1459.7 2137.5M1451.5 2134.1L1458.3 2140.9M1451.5 2140.9L1458.3 2134.1" stroke="#7E2F8E" stroke-width="1.75" stroke-linecap="round"/>
<text transform="translate(1484.2 2145.5) scale(1 1.1)" font-family="'Liberation Sans', Arial, sans-serif" font-size="19.6" word-spacing="-0.5">MuLE [12]</text>
<path d="M1429.3 2163.6H1480.1" stroke="#00FF00" stroke-width="2.0"/>
<path d="M1454.9 2158.8L1454.9 2168.4M1450.1 2163.6L1459.7 2163.6M1451.5 2160.2L1458.3 2167M1451.5 2167L1458.3 2160.2" stroke="#00FF00" stroke-width="1.75" stroke-linecap="round"/>
<text transform="translate(1484.2 2171.6) scale(1 1.1)" font-family="'Liberation Sans', Arial, sans-serif" font-size="19.6" word-spacing="-0.5">GCCM [21]</text>
<path d="M1429.3 2189.4H1480.1" stroke="#FF0000" stroke-width="1.9"/>
<path d="M1454.9 2182.1L1460.2 2189.4L1454.9 2196.7L1449.6 2189.4Z" fill="none" stroke="#FF0000" stroke-width="1.75" stroke-linejoin="miter"/>
<text transform="translate(1484.2 2197.4) scale(1 1.1)" font-family="'Liberation Sans', Arial, sans-serif" font-size="19.6" word-spacing="-0.5">Proposed</text>
<text x="1332.7" y="2341" text-anchor="middle" font-family="'Liberation Serif', 'Times New Roman', serif" font-size="36">(j)</text>
</g>
</svg></body></html>
